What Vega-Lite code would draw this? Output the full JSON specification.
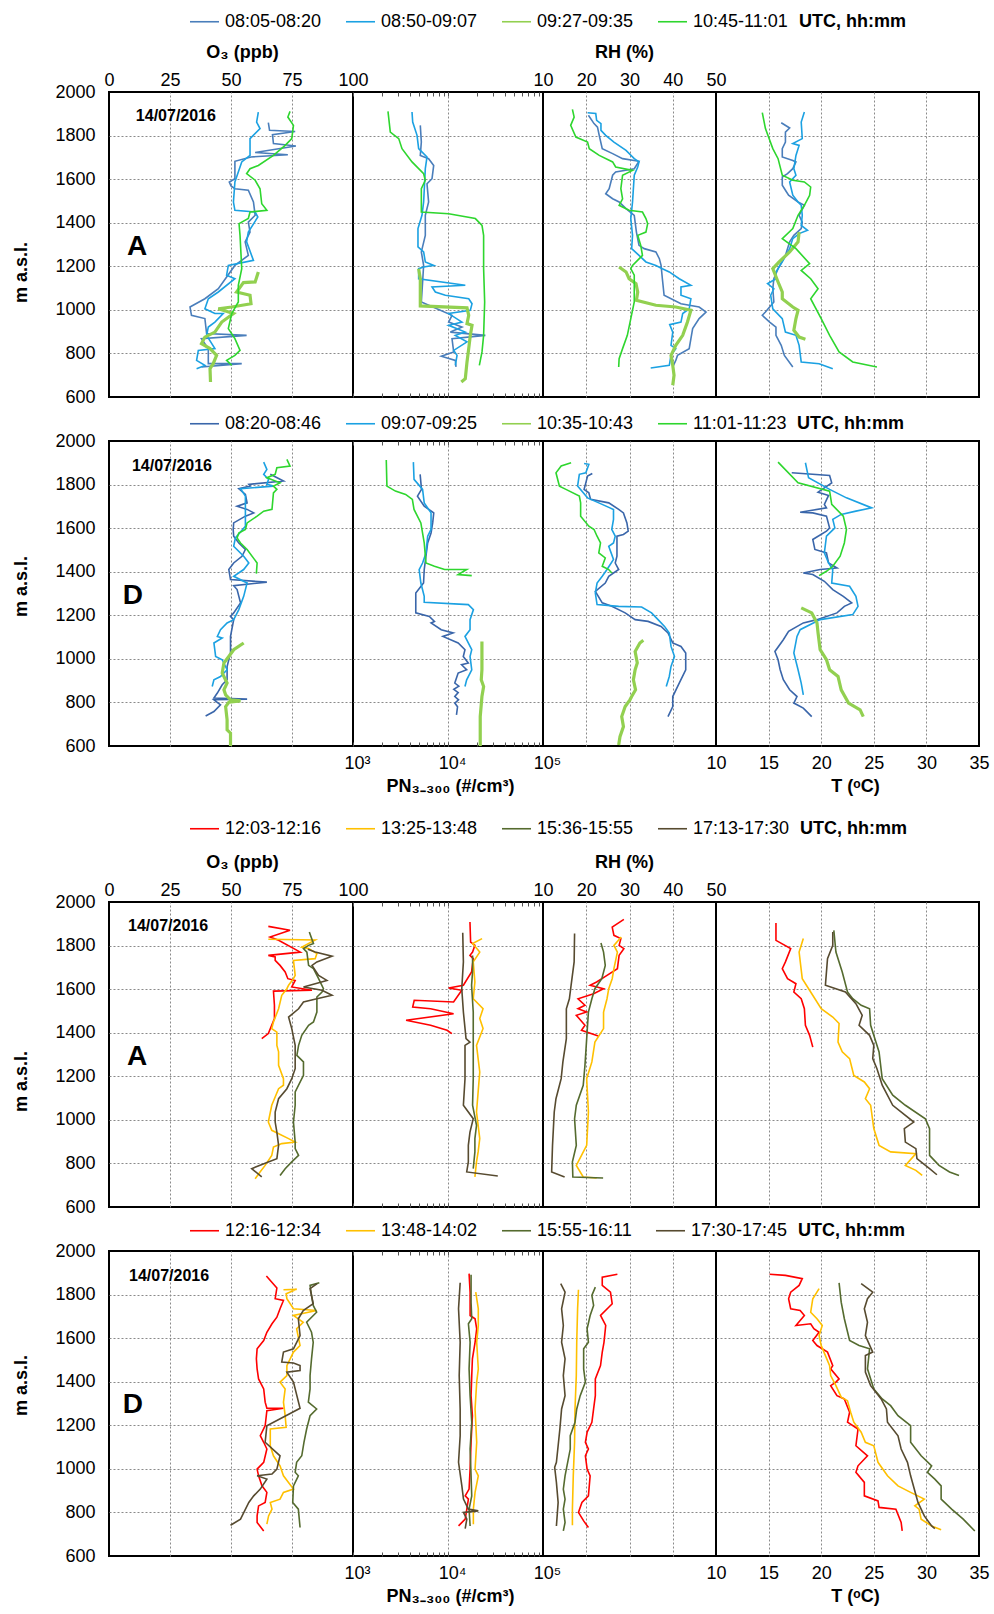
{
"$schema":"https://vega.github.io/schema/vega-lite/v6.json",
"background":"white",
"padding":{"left":10,"top":5,"right":5,"bottom":5},
"config":{
"font":"Liberation Sans",
"view":{"stroke":"#000000","strokeWidth":2},
"axis":{"domain":false,"ticks":false,"grid":true,"gridColor":"#8a8a8a","gridDash":[2,2],"gridWidth":1,"labelFont":"Liberation Sans","labelFontSize":18,"labelColor":"#000000","labelFlush":false,"labelOverlap":false,"labelBound":false,"titleFont":"Liberation Sans","titleFontSize":18,"titleFontWeight":"bold","titleColor":"#000000"},
"legend":{"labelFont":"Liberation Sans","titleFont":"Liberation Sans"},
"text":{"font":"Liberation Sans","color":"#000000"}
},
"datasets":{
"r1":[
{"v":"o","p":1,"alt":1859,"val":65.3},{"v":"o","p":1,"alt":1824,"val":65.8},{"v":"o","p":1,"alt":1819,"val":76.3},{"v":"o","p":1,"alt":1804,"val":67},{"v":"o","p":1,"alt":1763,"val":67.4},{"v":"o","p":1,"alt":1752,"val":76.6},{"v":"o","p":1,"alt":1722,"val":59.9},{"v":"o","p":1,"alt":1712,"val":73.3},{"v":"o","p":1,"alt":1702,"val":58.2},{"v":"o","p":1,"alt":1682,"val":51.6},{"v":"o","p":1,"alt":1602,"val":51.6},{"v":"o","p":1,"alt":1587,"val":49.3},{"v":"o","p":1,"alt":1569,"val":50},{"v":"o","p":1,"alt":1556,"val":51.6},{"v":"o","p":1,"alt":1549,"val":57.1},{"v":"o","p":1,"alt":1495,"val":59.2},{"v":"o","p":1,"alt":1434,"val":59.9},{"v":"o","p":1,"alt":1403,"val":57.1},{"v":"o","p":1,"alt":1357,"val":57.8},{"v":"o","p":1,"alt":1312,"val":55.8},{"v":"o","p":1,"alt":1250,"val":57.1},{"v":"o","p":1,"alt":1204,"val":51.6},{"v":"o","p":1,"alt":1097,"val":44.8},{"v":"o","p":1,"alt":1051,"val":39.3},{"v":"o","p":1,"alt":1013,"val":33.2},{"v":"o","p":1,"alt":975,"val":33.8},{"v":"o","p":1,"alt":960,"val":39.3},{"v":"o","p":1,"alt":891,"val":40},{"v":"o","p":1,"alt":883,"val":56.4},{"v":"o","p":1,"alt":868,"val":37.9},{"v":"o","p":1,"alt":822,"val":40.7},{"v":"o","p":1,"alt":753,"val":40.7},{"v":"o","p":1,"alt":753,"val":54.4},{"v":"o","p":1,"alt":738,"val":37.9},
{"v":"o","p":2,"alt":1908,"val":61.2},{"v":"o","p":2,"alt":1862,"val":60.5},{"v":"o","p":2,"alt":1832,"val":61.9},{"v":"o","p":2,"alt":1786,"val":57.8},{"v":"o","p":2,"alt":1709,"val":57.8},{"v":"o","p":2,"alt":1679,"val":54.4},{"v":"o","p":2,"alt":1587,"val":51.6},{"v":"o","p":2,"alt":1495,"val":51},{"v":"o","p":2,"alt":1457,"val":51.6},{"v":"o","p":2,"alt":1449,"val":59.9},{"v":"o","p":2,"alt":1426,"val":61},{"v":"o","p":2,"alt":1357,"val":57.1},{"v":"o","p":2,"alt":1312,"val":56.4},{"v":"o","p":2,"alt":1227,"val":59.2},{"v":"o","p":2,"alt":1204,"val":48.9},{"v":"o","p":2,"alt":1159,"val":48.2},{"v":"o","p":2,"alt":1143,"val":51.6},{"v":"o","p":2,"alt":1082,"val":44.8},{"v":"o","p":2,"alt":1051,"val":40.7},{"v":"o","p":2,"alt":1005,"val":39.3},{"v":"o","p":2,"alt":983,"val":43.4},{"v":"o","p":2,"alt":983,"val":46.8},{"v":"o","p":2,"alt":944,"val":43.4},{"v":"o","p":2,"alt":921,"val":40.7},{"v":"o","p":2,"alt":883,"val":40},{"v":"o","p":2,"alt":822,"val":43.4},{"v":"o","p":2,"alt":814,"val":36.6},{"v":"o","p":2,"alt":768,"val":35.9},{"v":"o","p":2,"alt":745,"val":39.3},{"v":"o","p":2,"alt":730,"val":35.9},
{"v":"o","p":3,"alt":1174,"val":61.2},{"v":"o","p":3,"alt":1128,"val":59.9},{"v":"o","p":3,"alt":1125,"val":55.1},{"v":"o","p":3,"alt":1082,"val":52.3},{"v":"o","p":3,"alt":1067,"val":57.8},{"v":"o","p":3,"alt":1028,"val":58.2},{"v":"o","p":3,"alt":1013,"val":50.3},{"v":"o","p":3,"alt":1005,"val":44.8},{"v":"o","p":3,"alt":983,"val":51},{"v":"o","p":3,"alt":944,"val":46.2},{"v":"o","p":3,"alt":898,"val":43.4},{"v":"o","p":3,"alt":875,"val":39.3},{"v":"o","p":3,"alt":845,"val":37.9},{"v":"o","p":3,"alt":822,"val":41.4},{"v":"o","p":3,"alt":791,"val":44.1},{"v":"o","p":3,"alt":753,"val":42.7},{"v":"o","p":3,"alt":730,"val":41.4},{"v":"o","p":3,"alt":669,"val":41.6},
{"v":"o","p":4,"alt":1911,"val":74.2},{"v":"o","p":4,"alt":1885,"val":73.3},{"v":"o","p":4,"alt":1847,"val":75.6},{"v":"o","p":4,"alt":1786,"val":74.9},{"v":"o","p":4,"alt":1755,"val":72.2},{"v":"o","p":4,"alt":1709,"val":67.4},{"v":"o","p":4,"alt":1663,"val":61.2},{"v":"o","p":4,"alt":1648,"val":57.8},{"v":"o","p":4,"alt":1625,"val":56.4},{"v":"o","p":4,"alt":1595,"val":59.9},{"v":"o","p":4,"alt":1556,"val":61.9},{"v":"o","p":4,"alt":1487,"val":62.6},{"v":"o","p":4,"alt":1457,"val":64.7},{"v":"o","p":4,"alt":1449,"val":57.8},{"v":"o","p":4,"alt":1419,"val":57.1},{"v":"o","p":4,"alt":1396,"val":53.3},{"v":"o","p":4,"alt":1342,"val":53.7},{"v":"o","p":4,"alt":1189,"val":54.4},{"v":"o","p":4,"alt":1113,"val":53},{"v":"o","p":4,"alt":1036,"val":53},{"v":"o","p":4,"alt":983,"val":50.3},{"v":"o","p":4,"alt":914,"val":48.9},{"v":"o","p":4,"alt":868,"val":51.6},{"v":"o","p":4,"alt":814,"val":53.7},{"v":"o","p":4,"alt":791,"val":51.6},{"v":"o","p":4,"alt":768,"val":48.2},{"v":"o","p":4,"alt":745,"val":50.3},
{"v":"n","p":1,"alt":1847,"val":5110},{"v":"n","p":1,"alt":1770,"val":5240},{"v":"n","p":1,"alt":1709,"val":5110},{"v":"n","p":1,"alt":1694,"val":6250},{"v":"n","p":1,"alt":1663,"val":7070},{"v":"n","p":1,"alt":1602,"val":6790},{"v":"n","p":1,"alt":1579,"val":6010},{"v":"n","p":1,"alt":1495,"val":6250},{"v":"n","p":1,"alt":1434,"val":5770},{"v":"n","p":1,"alt":1342,"val":5770},{"v":"n","p":1,"alt":1266,"val":5240},{"v":"n","p":1,"alt":1204,"val":5540},{"v":"n","p":1,"alt":1143,"val":5430},{"v":"n","p":1,"alt":1036,"val":5240},{"v":"n","p":1,"alt":975,"val":11020},{"v":"n","p":1,"alt":944,"val":10160},{"v":"n","p":1,"alt":921,"val":14030},{"v":"n","p":1,"alt":898,"val":10590},{"v":"n","p":1,"alt":883,"val":24720},{"v":"n","p":1,"alt":868,"val":11020},{"v":"n","p":1,"alt":807,"val":11480},{"v":"n","p":1,"alt":787,"val":8510},{"v":"n","p":1,"alt":768,"val":11940},{"v":"n","p":1,"alt":738,"val":12140},
{"v":"n","p":2,"alt":1908,"val":4180},{"v":"n","p":2,"alt":1862,"val":4250},{"v":"n","p":2,"alt":1801,"val":4720},{"v":"n","p":2,"alt":1740,"val":4910},{"v":"n","p":2,"alt":1702,"val":6010},{"v":"n","p":2,"alt":1648,"val":5770},{"v":"n","p":2,"alt":1495,"val":5540},{"v":"n","p":2,"alt":1434,"val":5320},{"v":"n","p":2,"alt":1373,"val":4830},{"v":"n","p":2,"alt":1289,"val":4830},{"v":"n","p":2,"alt":1266,"val":5540},{"v":"n","p":2,"alt":1220,"val":5770},{"v":"n","p":2,"alt":1204,"val":7070},{"v":"n","p":2,"alt":1197,"val":5540},{"v":"n","p":2,"alt":1189,"val":4910},{"v":"n","p":2,"alt":1143,"val":4910},{"v":"n","p":2,"alt":1113,"val":15210},{"v":"n","p":2,"alt":1105,"val":6790},{"v":"n","p":2,"alt":1082,"val":7360},{"v":"n","p":2,"alt":1067,"val":9380},{"v":"n","p":2,"alt":1051,"val":16520},{"v":"n","p":2,"alt":1028,"val":17910},{"v":"n","p":2,"alt":998,"val":17180},{"v":"n","p":2,"alt":983,"val":10160},{"v":"n","p":2,"alt":944,"val":14030},{"v":"n","p":2,"alt":929,"val":10160},{"v":"n","p":2,"alt":898,"val":15210},{"v":"n","p":2,"alt":883,"val":11940},{"v":"n","p":2,"alt":853,"val":15850},{"v":"n","p":2,"alt":814,"val":11480},{"v":"n","p":2,"alt":791,"val":12450},{"v":"n","p":2,"alt":745,"val":11940},
{"v":"n","p":3,"alt":1189,"val":4910},{"v":"n","p":3,"alt":1143,"val":5110},{"v":"n","p":3,"alt":1018,"val":5110},{"v":"n","p":3,"alt":1009,"val":15850},{"v":"n","p":3,"alt":975,"val":16520},{"v":"n","p":3,"alt":937,"val":15850},{"v":"n","p":3,"alt":929,"val":17910},{"v":"n","p":3,"alt":883,"val":17180},{"v":"n","p":3,"alt":822,"val":16520},{"v":"n","p":3,"alt":761,"val":15850},{"v":"n","p":3,"alt":684,"val":15210},{"v":"n","p":3,"alt":669,"val":13810},
{"v":"n","p":4,"alt":1911,"val":2335},{"v":"n","p":4,"alt":1816,"val":2470},{"v":"n","p":4,"alt":1786,"val":3030},{"v":"n","p":4,"alt":1740,"val":3280},{"v":"n","p":4,"alt":1679,"val":4180},{"v":"n","p":4,"alt":1625,"val":5540},{"v":"n","p":4,"alt":1595,"val":5770},{"v":"n","p":4,"alt":1556,"val":5240},{"v":"n","p":4,"alt":1449,"val":5240},{"v":"n","p":4,"alt":1441,"val":10160},{"v":"n","p":4,"alt":1419,"val":19410},{"v":"n","p":4,"alt":1388,"val":22800},{"v":"n","p":4,"alt":1342,"val":23710},{"v":"n","p":4,"alt":1189,"val":23710},{"v":"n","p":4,"alt":1036,"val":24320},{"v":"n","p":4,"alt":883,"val":23710},{"v":"n","p":4,"alt":807,"val":22800},{"v":"n","p":4,"alt":745,"val":21380},
{"v":"h","p":1,"alt":1893,"val":20.5},{"v":"h","p":1,"alt":1855,"val":21.8},{"v":"h","p":1,"alt":1839,"val":22.6},{"v":"h","p":1,"alt":1801,"val":23},{"v":"h","p":1,"alt":1740,"val":23.7},{"v":"h","p":1,"alt":1717,"val":26.1},{"v":"h","p":1,"alt":1694,"val":28.4},{"v":"h","p":1,"alt":1682,"val":32.2},{"v":"h","p":1,"alt":1648,"val":31.1},{"v":"h","p":1,"alt":1633,"val":26.8},{"v":"h","p":1,"alt":1618,"val":26.1},{"v":"h","p":1,"alt":1556,"val":25.3},{"v":"h","p":1,"alt":1533,"val":24.5},{"v":"h","p":1,"alt":1510,"val":26.1},{"v":"h","p":1,"alt":1495,"val":27.6},{"v":"h","p":1,"alt":1465,"val":29.2},{"v":"h","p":1,"alt":1434,"val":31.1},{"v":"h","p":1,"alt":1357,"val":31.6},{"v":"h","p":1,"alt":1296,"val":32.2},{"v":"h","p":1,"alt":1281,"val":33.4},{"v":"h","p":1,"alt":1266,"val":36.1},{"v":"h","p":1,"alt":1235,"val":36.9},{"v":"h","p":1,"alt":1204,"val":37.3},{"v":"h","p":1,"alt":1143,"val":37.6},{"v":"h","p":1,"alt":1067,"val":38},{"v":"h","p":1,"alt":1028,"val":41.9},{"v":"h","p":1,"alt":1013,"val":46.1},{"v":"h","p":1,"alt":990,"val":47.7},{"v":"h","p":1,"alt":960,"val":46.1},{"v":"h","p":1,"alt":914,"val":44.6},{"v":"h","p":1,"alt":868,"val":44.2},{"v":"h","p":1,"alt":822,"val":43.8},{"v":"h","p":1,"alt":791,"val":41.1},{"v":"h","p":1,"alt":768,"val":40.7},{"v":"h","p":1,"alt":738,"val":40},
{"v":"h","p":2,"alt":1905,"val":20.3},{"v":"h","p":2,"alt":1901,"val":22.2},{"v":"h","p":2,"alt":1870,"val":22.4},{"v":"h","p":2,"alt":1855,"val":23.4},{"v":"h","p":2,"alt":1824,"val":23.4},{"v":"h","p":2,"alt":1801,"val":24.5},{"v":"h","p":2,"alt":1770,"val":26.4},{"v":"h","p":2,"alt":1732,"val":29.2},{"v":"h","p":2,"alt":1694,"val":31.1},{"v":"h","p":2,"alt":1679,"val":32.2},{"v":"h","p":2,"alt":1656,"val":31.9},{"v":"h","p":2,"alt":1618,"val":31.1},{"v":"h","p":2,"alt":1495,"val":30.7},{"v":"h","p":2,"alt":1419,"val":30.3},{"v":"h","p":2,"alt":1342,"val":30.7},{"v":"h","p":2,"alt":1281,"val":30.5},{"v":"h","p":2,"alt":1250,"val":32.2},{"v":"h","p":2,"alt":1220,"val":33.8},{"v":"h","p":2,"alt":1204,"val":36.1},{"v":"h","p":2,"alt":1189,"val":37.6},{"v":"h","p":2,"alt":1174,"val":39.2},{"v":"h","p":2,"alt":1143,"val":41.5},{"v":"h","p":2,"alt":1113,"val":44.2},{"v":"h","p":2,"alt":1105,"val":41.9},{"v":"h","p":2,"alt":1067,"val":41.9},{"v":"h","p":2,"alt":1051,"val":44.2},{"v":"h","p":2,"alt":1005,"val":43.8},{"v":"h","p":2,"alt":983,"val":42.3},{"v":"h","p":2,"alt":944,"val":41.9},{"v":"h","p":2,"alt":932,"val":39.3},{"v":"h","p":2,"alt":898,"val":40},{"v":"h","p":2,"alt":837,"val":39.6},{"v":"h","p":2,"alt":822,"val":40.7},{"v":"h","p":2,"alt":791,"val":39.6},{"v":"h","p":2,"alt":745,"val":39.2},{"v":"h","p":2,"alt":733,"val":34.9},
{"v":"h","p":3,"alt":1197,"val":27.6},{"v":"h","p":3,"alt":1174,"val":29.2},{"v":"h","p":3,"alt":1143,"val":29.9},{"v":"h","p":3,"alt":1120,"val":31.5},{"v":"h","p":3,"alt":1082,"val":31.9},{"v":"h","p":3,"alt":1044,"val":31.6},{"v":"h","p":3,"alt":1021,"val":36.1},{"v":"h","p":3,"alt":1013,"val":40.7},{"v":"h","p":3,"alt":998,"val":44.2},{"v":"h","p":3,"alt":944,"val":43.4},{"v":"h","p":3,"alt":883,"val":42.3},{"v":"h","p":3,"alt":837,"val":40.7},{"v":"h","p":3,"alt":791,"val":39.6},{"v":"h","p":3,"alt":745,"val":40},{"v":"h","p":3,"alt":700,"val":40.3},{"v":"h","p":3,"alt":654,"val":40},
{"v":"h","p":4,"alt":1920,"val":16.8},{"v":"h","p":4,"alt":1885,"val":17.2},{"v":"h","p":4,"alt":1847,"val":16.4},{"v":"h","p":4,"alt":1793,"val":17.6},{"v":"h","p":4,"alt":1770,"val":20.3},{"v":"h","p":4,"alt":1740,"val":20.7},{"v":"h","p":4,"alt":1709,"val":23},{"v":"h","p":4,"alt":1679,"val":26.1},{"v":"h","p":4,"alt":1656,"val":26.8},{"v":"h","p":4,"alt":1640,"val":30.7},{"v":"h","p":4,"alt":1618,"val":28.4},{"v":"h","p":4,"alt":1556,"val":28},{"v":"h","p":4,"alt":1510,"val":28.4},{"v":"h","p":4,"alt":1480,"val":27.6},{"v":"h","p":4,"alt":1457,"val":29.9},{"v":"h","p":4,"alt":1449,"val":33},{"v":"h","p":4,"alt":1419,"val":33.8},{"v":"h","p":4,"alt":1396,"val":34.2},{"v":"h","p":4,"alt":1357,"val":33.8},{"v":"h","p":4,"alt":1342,"val":31.9},{"v":"h","p":4,"alt":1296,"val":32.6},{"v":"h","p":4,"alt":1250,"val":33},{"v":"h","p":4,"alt":1204,"val":30.7},{"v":"h","p":4,"alt":1189,"val":30.3},{"v":"h","p":4,"alt":1159,"val":31.1},{"v":"h","p":4,"alt":1036,"val":31.1},{"v":"h","p":4,"alt":960,"val":30.3},{"v":"h","p":4,"alt":883,"val":29.5},{"v":"h","p":4,"alt":822,"val":28.4},{"v":"h","p":4,"alt":776,"val":27.6},{"v":"h","p":4,"alt":738,"val":27.5},
{"v":"t","p":1,"alt":1859,"val":16.2},{"v":"t","p":1,"alt":1835,"val":17},{"v":"t","p":1,"alt":1816,"val":16.6},{"v":"t","p":1,"alt":1770,"val":16.6},{"v":"t","p":1,"alt":1740,"val":16.3},{"v":"t","p":1,"alt":1702,"val":16.3},{"v":"t","p":1,"alt":1686,"val":17.3},{"v":"t","p":1,"alt":1679,"val":17.6},{"v":"t","p":1,"alt":1648,"val":17.3},{"v":"t","p":1,"alt":1625,"val":16.8},{"v":"t","p":1,"alt":1610,"val":16.3},{"v":"t","p":1,"alt":1572,"val":16.3},{"v":"t","p":1,"alt":1549,"val":16.6},{"v":"t","p":1,"alt":1526,"val":16.9},{"v":"t","p":1,"alt":1495,"val":17.8},{"v":"t","p":1,"alt":1480,"val":18.4},{"v":"t","p":1,"alt":1434,"val":17.9},{"v":"t","p":1,"alt":1403,"val":18.2},{"v":"t","p":1,"alt":1373,"val":18.1},{"v":"t","p":1,"alt":1342,"val":17.4},{"v":"t","p":1,"alt":1312,"val":17},{"v":"t","p":1,"alt":1250,"val":16.6},{"v":"t","p":1,"alt":1189,"val":15.9},{"v":"t","p":1,"alt":1143,"val":15.5},{"v":"t","p":1,"alt":1097,"val":15.4},{"v":"t","p":1,"alt":1036,"val":15.5},{"v":"t","p":1,"alt":990,"val":14.7},{"v":"t","p":1,"alt":975,"val":14.4},{"v":"t","p":1,"alt":944,"val":15.1},{"v":"t","p":1,"alt":921,"val":15.7},{"v":"t","p":1,"alt":883,"val":15.7},{"v":"t","p":1,"alt":837,"val":16.2},{"v":"t","p":1,"alt":791,"val":16.5},{"v":"t","p":1,"alt":738,"val":17.3},
{"v":"t","p":2,"alt":1908,"val":18.4},{"v":"t","p":2,"alt":1862,"val":18.1},{"v":"t","p":2,"alt":1786,"val":18.2},{"v":"t","p":2,"alt":1763,"val":17.3},{"v":"t","p":2,"alt":1755,"val":17.9},{"v":"t","p":2,"alt":1709,"val":17.6},{"v":"t","p":2,"alt":1648,"val":17.4},{"v":"t","p":2,"alt":1618,"val":17.6},{"v":"t","p":2,"alt":1587,"val":17},{"v":"t","p":2,"alt":1526,"val":17.3},{"v":"t","p":2,"alt":1495,"val":17.8},{"v":"t","p":2,"alt":1480,"val":18.1},{"v":"t","p":2,"alt":1434,"val":18.2},{"v":"t","p":2,"alt":1388,"val":18.1},{"v":"t","p":2,"alt":1365,"val":18.7},{"v":"t","p":2,"alt":1350,"val":17.9},{"v":"t","p":2,"alt":1327,"val":17.3},{"v":"t","p":2,"alt":1281,"val":17},{"v":"t","p":2,"alt":1220,"val":16.3},{"v":"t","p":2,"alt":1174,"val":15.7},{"v":"t","p":2,"alt":1143,"val":15.7},{"v":"t","p":2,"alt":1120,"val":14.9},{"v":"t","p":2,"alt":1097,"val":15.5},{"v":"t","p":2,"alt":1067,"val":15.2},{"v":"t","p":2,"alt":1005,"val":15.4},{"v":"t","p":2,"alt":960,"val":16.3},{"v":"t","p":2,"alt":898,"val":16.6},{"v":"t","p":2,"alt":883,"val":17.6},{"v":"t","p":2,"alt":837,"val":17.9},{"v":"t","p":2,"alt":761,"val":18.1},{"v":"t","p":2,"alt":753,"val":19.8},{"v":"t","p":2,"alt":730,"val":21.1},
{"v":"t","p":3,"alt":1357,"val":17.9},{"v":"t","p":3,"alt":1312,"val":17.8},{"v":"t","p":3,"alt":1266,"val":17},{"v":"t","p":3,"alt":1220,"val":16},{"v":"t","p":3,"alt":1189,"val":15.4},{"v":"t","p":3,"alt":1128,"val":15.9},{"v":"t","p":3,"alt":1082,"val":16.3},{"v":"t","p":3,"alt":1051,"val":16.3},{"v":"t","p":3,"alt":1013,"val":17.3},{"v":"t","p":3,"alt":998,"val":17.8},{"v":"t","p":3,"alt":960,"val":17.6},{"v":"t","p":3,"alt":906,"val":17.4},{"v":"t","p":3,"alt":875,"val":17.9},{"v":"t","p":3,"alt":865,"val":18.5},
{"v":"t","p":4,"alt":1905,"val":14.4},{"v":"t","p":4,"alt":1832,"val":14.7},{"v":"t","p":4,"alt":1740,"val":15.4},{"v":"t","p":4,"alt":1694,"val":15.9},{"v":"t","p":4,"alt":1618,"val":16.3},{"v":"t","p":4,"alt":1595,"val":17.3},{"v":"t","p":4,"alt":1587,"val":18.4},{"v":"t","p":4,"alt":1564,"val":19},{"v":"t","p":4,"alt":1526,"val":18.9},{"v":"t","p":4,"alt":1480,"val":18.4},{"v":"t","p":4,"alt":1434,"val":17.8},{"v":"t","p":4,"alt":1373,"val":17.3},{"v":"t","p":4,"alt":1327,"val":16.3},{"v":"t","p":4,"alt":1281,"val":17.6},{"v":"t","p":4,"alt":1212,"val":18.9},{"v":"t","p":4,"alt":1181,"val":18.1},{"v":"t","p":4,"alt":1143,"val":19},{"v":"t","p":4,"alt":1097,"val":19.7},{"v":"t","p":4,"alt":1051,"val":19},{"v":"t","p":4,"alt":960,"val":20},{"v":"t","p":4,"alt":883,"val":20.8},{"v":"t","p":4,"alt":807,"val":21.7},{"v":"t","p":4,"alt":761,"val":23},{"v":"t","p":4,"alt":745,"val":24.6},{"v":"t","p":4,"alt":738,"val":25.3}
],
"r2":[
{"v":"o","p":1,"alt":1847,"val":66.1},{"v":"o","p":1,"alt":1816,"val":71.5},{"v":"o","p":1,"alt":1801,"val":57.3},{"v":"o","p":1,"alt":1793,"val":57.9},{"v":"o","p":1,"alt":1781,"val":53.2},{"v":"o","p":1,"alt":1755,"val":55.9},{"v":"o","p":1,"alt":1716,"val":56.6},{"v":"o","p":1,"alt":1701,"val":52.5},{"v":"o","p":1,"alt":1686,"val":56.6},{"v":"o","p":1,"alt":1670,"val":59.3},{"v":"o","p":1,"alt":1655,"val":55.9},{"v":"o","p":1,"alt":1624,"val":51.1},{"v":"o","p":1,"alt":1594,"val":50.9},{"v":"o","p":1,"alt":1563,"val":51.1},{"v":"o","p":1,"alt":1532,"val":53.2},{"v":"o","p":1,"alt":1502,"val":55.9},{"v":"o","p":1,"alt":1471,"val":54.5},{"v":"o","p":1,"alt":1440,"val":51.1},{"v":"o","p":1,"alt":1410,"val":49.1},{"v":"o","p":1,"alt":1364,"val":49.8},{"v":"o","p":1,"alt":1352,"val":64.7},{"v":"o","p":1,"alt":1336,"val":51.1},{"v":"o","p":1,"alt":1318,"val":52.5},{"v":"o","p":1,"alt":1257,"val":53.9},{"v":"o","p":1,"alt":1211,"val":51.1},{"v":"o","p":1,"alt":1195,"val":49.8},{"v":"o","p":1,"alt":1180,"val":51.1},{"v":"o","p":1,"alt":1103,"val":49.8},{"v":"o","p":1,"alt":1027,"val":49.8},{"v":"o","p":1,"alt":965,"val":48.4},{"v":"o","p":1,"alt":904,"val":48.4},{"v":"o","p":1,"alt":881,"val":46.4},{"v":"o","p":1,"alt":843,"val":44.4},{"v":"o","p":1,"alt":820,"val":43},{"v":"o","p":1,"alt":815,"val":56.6},{"v":"o","p":1,"alt":812,"val":43},{"v":"o","p":1,"alt":789,"val":45.7},{"v":"o","p":1,"alt":758,"val":43},{"v":"o","p":1,"alt":738,"val":39.6},
{"v":"o","p":2,"alt":1903,"val":63.4},{"v":"o","p":2,"alt":1870,"val":64.7},{"v":"o","p":2,"alt":1847,"val":63.4},{"v":"o","p":2,"alt":1824,"val":65.4},{"v":"o","p":2,"alt":1801,"val":64.7},{"v":"o","p":2,"alt":1793,"val":67.4},{"v":"o","p":2,"alt":1781,"val":53.9},{"v":"o","p":2,"alt":1747,"val":55.9},{"v":"o","p":2,"alt":1670,"val":55.9},{"v":"o","p":2,"alt":1609,"val":55.9},{"v":"o","p":2,"alt":1555,"val":51.8},{"v":"o","p":2,"alt":1517,"val":51.1},{"v":"o","p":2,"alt":1471,"val":55.2},{"v":"o","p":2,"alt":1440,"val":57.3},{"v":"o","p":2,"alt":1410,"val":55.2},{"v":"o","p":2,"alt":1379,"val":51.1},{"v":"o","p":2,"alt":1348,"val":56.6},{"v":"o","p":2,"alt":1287,"val":55.2},{"v":"o","p":2,"alt":1226,"val":53.2},{"v":"o","p":2,"alt":1180,"val":51.1},{"v":"o","p":2,"alt":1165,"val":48.4},{"v":"o","p":2,"alt":1134,"val":45.7},{"v":"o","p":2,"alt":1103,"val":44.4},{"v":"o","p":2,"alt":1096,"val":46.4},{"v":"o","p":2,"alt":1073,"val":43},{"v":"o","p":2,"alt":1011,"val":43.7},{"v":"o","p":2,"alt":996,"val":46.4},{"v":"o","p":2,"alt":950,"val":48.4},{"v":"o","p":2,"alt":935,"val":47.1},{"v":"o","p":2,"alt":919,"val":45.7},{"v":"o","p":2,"alt":904,"val":43},{"v":"o","p":2,"alt":873,"val":42.3},
{"v":"o","p":3,"alt":1073,"val":55.2},{"v":"o","p":3,"alt":1042,"val":51.1},{"v":"o","p":3,"alt":1011,"val":49.1},{"v":"o","p":3,"alt":981,"val":47.1},{"v":"o","p":3,"alt":935,"val":46.4},{"v":"o","p":3,"alt":889,"val":48.4},{"v":"o","p":3,"alt":858,"val":47.1},{"v":"o","p":3,"alt":835,"val":47.8},{"v":"o","p":3,"alt":812,"val":49.8},{"v":"o","p":3,"alt":807,"val":53.9},{"v":"o","p":3,"alt":801,"val":49.1},{"v":"o","p":3,"alt":781,"val":47.8},{"v":"o","p":3,"alt":720,"val":48.4},{"v":"o","p":3,"alt":674,"val":48.4},{"v":"o","p":3,"alt":659,"val":49.8},{"v":"o","p":3,"alt":600,"val":49.8},
{"v":"o","p":4,"alt":1916,"val":72.9},{"v":"o","p":4,"alt":1885,"val":74.2},{"v":"o","p":4,"alt":1877,"val":68.8},{"v":"o","p":4,"alt":1847,"val":68.1},{"v":"o","p":4,"alt":1831,"val":64.7},{"v":"o","p":4,"alt":1808,"val":70.1},{"v":"o","p":4,"alt":1793,"val":67.4},{"v":"o","p":4,"alt":1778,"val":68.8},{"v":"o","p":4,"alt":1762,"val":67.4},{"v":"o","p":4,"alt":1686,"val":66.8},{"v":"o","p":4,"alt":1678,"val":63.4},{"v":"o","p":4,"alt":1655,"val":60.7},{"v":"o","p":4,"alt":1624,"val":56.6},{"v":"o","p":4,"alt":1594,"val":55.9},{"v":"o","p":4,"alt":1578,"val":53.2},{"v":"o","p":4,"alt":1555,"val":52.5},{"v":"o","p":4,"alt":1532,"val":53.9},{"v":"o","p":4,"alt":1502,"val":56.6},{"v":"o","p":4,"alt":1440,"val":60.7},{"v":"o","p":4,"alt":1391,"val":60.4},
{"v":"n","p":1,"alt":1847,"val":5090},{"v":"n","p":1,"alt":1778,"val":5260},{"v":"n","p":1,"alt":1747,"val":4770},{"v":"n","p":1,"alt":1701,"val":5620},{"v":"n","p":1,"alt":1670,"val":7080},{"v":"n","p":1,"alt":1624,"val":6900},{"v":"n","p":1,"alt":1578,"val":6630},{"v":"n","p":1,"alt":1532,"val":6110},{"v":"n","p":1,"alt":1471,"val":5860},{"v":"n","p":1,"alt":1410,"val":5620},{"v":"n","p":1,"alt":1348,"val":5530},{"v":"n","p":1,"alt":1302,"val":4580},{"v":"n","p":1,"alt":1211,"val":4580},{"v":"n","p":1,"alt":1195,"val":6360},{"v":"n","p":1,"alt":1172,"val":7200},{"v":"n","p":1,"alt":1165,"val":6630},{"v":"n","p":1,"alt":1134,"val":8480},{"v":"n","p":1,"alt":1119,"val":11320},{"v":"n","p":1,"alt":1103,"val":8840},{"v":"n","p":1,"alt":1073,"val":12790},{"v":"n","p":1,"alt":1042,"val":15090},{"v":"n","p":1,"alt":1011,"val":14480},{"v":"n","p":1,"alt":981,"val":16370},{"v":"n","p":1,"alt":973,"val":13890},{"v":"n","p":1,"alt":950,"val":15720},{"v":"n","p":1,"alt":935,"val":12790},{"v":"n","p":1,"alt":889,"val":11790},{"v":"n","p":1,"alt":875,"val":13000},{"v":"n","p":1,"alt":860,"val":11500},{"v":"n","p":1,"alt":845,"val":12800},{"v":"n","p":1,"alt":827,"val":11790},{"v":"n","p":1,"alt":812,"val":12900},{"v":"n","p":1,"alt":797,"val":11800},{"v":"n","p":1,"alt":780,"val":12600},{"v":"n","p":1,"alt":743,"val":12280},
{"v":"n","p":2,"alt":1903,"val":4320},{"v":"n","p":2,"alt":1824,"val":4390},{"v":"n","p":2,"alt":1778,"val":5400},{"v":"n","p":2,"alt":1716,"val":5620},{"v":"n","p":2,"alt":1670,"val":6630},{"v":"n","p":2,"alt":1594,"val":6630},{"v":"n","p":2,"alt":1563,"val":6110},{"v":"n","p":2,"alt":1486,"val":5860},{"v":"n","p":2,"alt":1440,"val":5400},{"v":"n","p":2,"alt":1410,"val":4970},{"v":"n","p":2,"alt":1348,"val":5180},{"v":"n","p":2,"alt":1287,"val":5620},{"v":"n","p":2,"alt":1260,"val":5620},{"v":"n","p":2,"alt":1249,"val":16370},{"v":"n","p":2,"alt":1226,"val":18520},{"v":"n","p":2,"alt":1180,"val":17060},{"v":"n","p":2,"alt":1134,"val":17060},{"v":"n","p":2,"alt":1103,"val":15090},{"v":"n","p":2,"alt":1042,"val":17780},{"v":"n","p":2,"alt":1011,"val":17060},{"v":"n","p":2,"alt":950,"val":17780},{"v":"n","p":2,"alt":904,"val":15720},{"v":"n","p":2,"alt":873,"val":15090},
{"v":"n","p":3,"alt":1080,"val":22760},{"v":"n","p":3,"alt":950,"val":22760},{"v":"n","p":3,"alt":904,"val":22390},{"v":"n","p":3,"alt":873,"val":23710},{"v":"n","p":3,"alt":827,"val":22760},{"v":"n","p":3,"alt":735,"val":21840},{"v":"n","p":3,"alt":600,"val":21840},
{"v":"n","p":4,"alt":1913,"val":2240},{"v":"n","p":4,"alt":1793,"val":2275},{"v":"n","p":4,"alt":1770,"val":2795},{"v":"n","p":4,"alt":1755,"val":3580},{"v":"n","p":4,"alt":1732,"val":4215},{"v":"n","p":4,"alt":1686,"val":4390},{"v":"n","p":4,"alt":1624,"val":5180},{"v":"n","p":4,"alt":1532,"val":5620},{"v":"n","p":4,"alt":1440,"val":5860},{"v":"n","p":4,"alt":1425,"val":7200},{"v":"n","p":4,"alt":1410,"val":9210},{"v":"n","p":4,"alt":1410,"val":15720},{"v":"n","p":4,"alt":1387,"val":12790},{"v":"n","p":4,"alt":1382,"val":17780},
{"v":"h","p":1,"alt":1851,"val":21.4},{"v":"h","p":1,"alt":1839,"val":20.3},{"v":"h","p":1,"alt":1808,"val":19.9},{"v":"h","p":1,"alt":1778,"val":19.5},{"v":"h","p":1,"alt":1762,"val":20.6},{"v":"h","p":1,"alt":1732,"val":21},{"v":"h","p":1,"alt":1716,"val":25.2},{"v":"h","p":1,"alt":1686,"val":27.5},{"v":"h","p":1,"alt":1670,"val":28.6},{"v":"h","p":1,"alt":1624,"val":29.4},{"v":"h","p":1,"alt":1586,"val":29.7},{"v":"h","p":1,"alt":1571,"val":28.6},{"v":"h","p":1,"alt":1563,"val":27.1},{"v":"h","p":1,"alt":1471,"val":27.1},{"v":"h","p":1,"alt":1440,"val":26.7},{"v":"h","p":1,"alt":1410,"val":27.5},{"v":"h","p":1,"alt":1379,"val":25.2},{"v":"h","p":1,"alt":1348,"val":24.4},{"v":"h","p":1,"alt":1310,"val":22.1},{"v":"h","p":1,"alt":1257,"val":23.7},{"v":"h","p":1,"alt":1241,"val":25.9},{"v":"h","p":1,"alt":1211,"val":29},{"v":"h","p":1,"alt":1180,"val":31.3},{"v":"h","p":1,"alt":1172,"val":34.3},{"v":"h","p":1,"alt":1149,"val":37.3},{"v":"h","p":1,"alt":1119,"val":38.9},{"v":"h","p":1,"alt":1073,"val":40},{"v":"h","p":1,"alt":1057,"val":41.9},{"v":"h","p":1,"alt":1027,"val":43},{"v":"h","p":1,"alt":950,"val":43},{"v":"h","p":1,"alt":889,"val":41.5},{"v":"h","p":1,"alt":827,"val":40},{"v":"h","p":1,"alt":781,"val":40},{"v":"h","p":1,"alt":735,"val":38.9},
{"v":"h","p":2,"alt":1897,"val":19.5},{"v":"h","p":2,"alt":1893,"val":20.6},{"v":"h","p":2,"alt":1854,"val":19.9},{"v":"h","p":2,"alt":1847,"val":18.4},{"v":"h","p":2,"alt":1793,"val":18},{"v":"h","p":2,"alt":1739,"val":20.3},{"v":"h","p":2,"alt":1716,"val":22.9},{"v":"h","p":2,"alt":1686,"val":26.3},{"v":"h","p":2,"alt":1640,"val":26.3},{"v":"h","p":2,"alt":1594,"val":25.9},{"v":"h","p":2,"alt":1563,"val":26.7},{"v":"h","p":2,"alt":1532,"val":26.3},{"v":"h","p":2,"alt":1517,"val":25.2},{"v":"h","p":2,"alt":1456,"val":26.3},{"v":"h","p":2,"alt":1410,"val":24.8},{"v":"h","p":2,"alt":1379,"val":23.7},{"v":"h","p":2,"alt":1348,"val":22.5},{"v":"h","p":2,"alt":1302,"val":22.1},{"v":"h","p":2,"alt":1249,"val":22.5},{"v":"h","p":2,"alt":1241,"val":27.5},{"v":"h","p":2,"alt":1238,"val":32.8},{"v":"h","p":2,"alt":1211,"val":35.1},{"v":"h","p":2,"alt":1180,"val":36.6},{"v":"h","p":2,"alt":1149,"val":38.1},{"v":"h","p":2,"alt":1119,"val":39.2},{"v":"h","p":2,"alt":1057,"val":39.6},{"v":"h","p":2,"alt":1011,"val":40.4},{"v":"h","p":2,"alt":965,"val":39.6},{"v":"h","p":2,"alt":919,"val":39.2},{"v":"h","p":2,"alt":873,"val":38.5},
{"v":"h","p":3,"alt":1085,"val":33.2},{"v":"h","p":3,"alt":1073,"val":32.4},{"v":"h","p":3,"alt":1034,"val":31.3},{"v":"h","p":3,"alt":981,"val":31.8},{"v":"h","p":3,"alt":950,"val":31.3},{"v":"h","p":3,"alt":904,"val":30.9},{"v":"h","p":3,"alt":858,"val":31.4},{"v":"h","p":3,"alt":827,"val":30.5},{"v":"h","p":3,"alt":812,"val":30.1},{"v":"h","p":3,"alt":781,"val":29},{"v":"h","p":3,"alt":735,"val":28.2},{"v":"h","p":3,"alt":689,"val":28.6},{"v":"h","p":3,"alt":643,"val":27.8},{"v":"h","p":3,"alt":605,"val":27.5},
{"v":"h","p":4,"alt":1900,"val":16.5},{"v":"h","p":4,"alt":1885,"val":14.2},{"v":"h","p":4,"alt":1854,"val":13},{"v":"h","p":4,"alt":1793,"val":13.8},{"v":"h","p":4,"alt":1778,"val":15.3},{"v":"h","p":4,"alt":1747,"val":18.4},{"v":"h","p":4,"alt":1716,"val":18.7},{"v":"h","p":4,"alt":1655,"val":18.7},{"v":"h","p":4,"alt":1609,"val":20.6},{"v":"h","p":4,"alt":1594,"val":21.8},{"v":"h","p":4,"alt":1563,"val":22.5},{"v":"h","p":4,"alt":1532,"val":23.3},{"v":"h","p":4,"alt":1486,"val":22.9},{"v":"h","p":4,"alt":1463,"val":24.4},{"v":"h","p":4,"alt":1425,"val":23.7},{"v":"h","p":4,"alt":1410,"val":25.2},{"v":"h","p":4,"alt":1394,"val":25.9},
{"v":"t","p":1,"alt":1854,"val":17.2},{"v":"t","p":1,"alt":1842,"val":20.8},{"v":"t","p":1,"alt":1808,"val":21},{"v":"t","p":1,"alt":1765,"val":19.7},{"v":"t","p":1,"alt":1750,"val":20.7},{"v":"t","p":1,"alt":1709,"val":20.3},{"v":"t","p":1,"alt":1693,"val":20.5},{"v":"t","p":1,"alt":1673,"val":18},{"v":"t","p":1,"alt":1670,"val":19.2},{"v":"t","p":1,"alt":1655,"val":20.5},{"v":"t","p":1,"alt":1601,"val":20.8},{"v":"t","p":1,"alt":1586,"val":20.5},{"v":"t","p":1,"alt":1548,"val":19.2},{"v":"t","p":1,"alt":1502,"val":19.4},{"v":"t","p":1,"alt":1486,"val":20.5},{"v":"t","p":1,"alt":1440,"val":20.7},{"v":"t","p":1,"alt":1417,"val":21.5},{"v":"t","p":1,"alt":1410,"val":19.9},{"v":"t","p":1,"alt":1394,"val":18.3},{"v":"t","p":1,"alt":1387,"val":19.2},{"v":"t","p":1,"alt":1356,"val":20.3},{"v":"t","p":1,"alt":1318,"val":21.1},{"v":"t","p":1,"alt":1287,"val":22.1},{"v":"t","p":1,"alt":1257,"val":22.9},{"v":"t","p":1,"alt":1241,"val":22.2},{"v":"t","p":1,"alt":1211,"val":21.5},{"v":"t","p":1,"alt":1180,"val":19.6},{"v":"t","p":1,"alt":1165,"val":18.3},{"v":"t","p":1,"alt":1126,"val":16.9},{"v":"t","p":1,"alt":1088,"val":16.4},{"v":"t","p":1,"alt":1034,"val":15.6},{"v":"t","p":1,"alt":996,"val":15.9},{"v":"t","p":1,"alt":950,"val":16.1},{"v":"t","p":1,"alt":904,"val":16.4},{"v":"t","p":1,"alt":858,"val":17},{"v":"t","p":1,"alt":827,"val":17.7},{"v":"t","p":1,"alt":797,"val":17.4},{"v":"t","p":1,"alt":774,"val":18.3},{"v":"t","p":1,"alt":735,"val":19.1},
{"v":"t","p":2,"alt":1900,"val":18.5},{"v":"t","p":2,"alt":1831,"val":18.8},{"v":"t","p":2,"alt":1778,"val":20.8},{"v":"t","p":2,"alt":1739,"val":22.4},{"v":"t","p":2,"alt":1693,"val":24.8},{"v":"t","p":2,"alt":1678,"val":23.3},{"v":"t","p":2,"alt":1663,"val":21.9},{"v":"t","p":2,"alt":1640,"val":21.1},{"v":"t","p":2,"alt":1601,"val":21.3},{"v":"t","p":2,"alt":1563,"val":20.5},{"v":"t","p":2,"alt":1486,"val":20.3},{"v":"t","p":2,"alt":1440,"val":20.7},{"v":"t","p":2,"alt":1410,"val":21.1},{"v":"t","p":2,"alt":1348,"val":21},{"v":"t","p":2,"alt":1333,"val":22.7},{"v":"t","p":2,"alt":1287,"val":23.3},{"v":"t","p":2,"alt":1241,"val":23.5},{"v":"t","p":2,"alt":1203,"val":23},{"v":"t","p":2,"alt":1180,"val":19.9},{"v":"t","p":2,"alt":1134,"val":18},{"v":"t","p":2,"alt":1103,"val":17.7},{"v":"t","p":2,"alt":1027,"val":17.4},{"v":"t","p":2,"alt":950,"val":17.8},{"v":"t","p":2,"alt":889,"val":18.1},{"v":"t","p":2,"alt":835,"val":18.3},
{"v":"t","p":3,"alt":1234,"val":18.1},{"v":"t","p":3,"alt":1211,"val":19.1},{"v":"t","p":3,"alt":1165,"val":19.6},{"v":"t","p":3,"alt":1119,"val":19.7},{"v":"t","p":3,"alt":1042,"val":19.9},{"v":"t","p":3,"alt":996,"val":20.5},{"v":"t","p":3,"alt":950,"val":20.8},{"v":"t","p":3,"alt":919,"val":21.6},{"v":"t","p":3,"alt":858,"val":21.9},{"v":"t","p":3,"alt":797,"val":22.6},{"v":"t","p":3,"alt":766,"val":23.7},{"v":"t","p":3,"alt":735,"val":24},
{"v":"t","p":4,"alt":1903,"val":15.9},{"v":"t","p":4,"alt":1808,"val":17.8},{"v":"t","p":4,"alt":1770,"val":20.8},{"v":"t","p":4,"alt":1709,"val":21},{"v":"t","p":4,"alt":1655,"val":22.1},{"v":"t","p":4,"alt":1594,"val":22.4},{"v":"t","p":4,"alt":1532,"val":22.2},{"v":"t","p":4,"alt":1471,"val":21.8},{"v":"t","p":4,"alt":1425,"val":21.1},{"v":"t","p":4,"alt":1402,"val":20.5},{"v":"t","p":4,"alt":1382,"val":19.8}
],
"r3":[
{"v":"o","p":1,"alt":1888,"val":65.3},{"v":"o","p":1,"alt":1870,"val":74.2},{"v":"o","p":1,"alt":1839,"val":66},{"v":"o","p":1,"alt":1824,"val":69.5},{"v":"o","p":1,"alt":1770,"val":78.4},{"v":"o","p":1,"alt":1755,"val":65.3},{"v":"o","p":1,"alt":1748,"val":68.1},{"v":"o","p":1,"alt":1732,"val":68.1},{"v":"o","p":1,"alt":1709,"val":70.1},{"v":"o","p":1,"alt":1679,"val":72.2},{"v":"o","p":1,"alt":1648,"val":73.3},{"v":"o","p":1,"alt":1640,"val":76.3},{"v":"o","p":1,"alt":1610,"val":74.9},{"v":"o","p":1,"alt":1595,"val":83.2},{"v":"o","p":1,"alt":1591,"val":67.4},{"v":"o","p":1,"alt":1526,"val":67.8},{"v":"o","p":1,"alt":1465,"val":67.8},{"v":"o","p":1,"alt":1396,"val":65.3},{"v":"o","p":1,"alt":1373,"val":62.6},
{"v":"o","p":2,"alt":1829,"val":65.3},{"v":"o","p":2,"alt":1826,"val":84.5},{"v":"o","p":2,"alt":1793,"val":79},{"v":"o","p":2,"alt":1786,"val":81.8},{"v":"o","p":2,"alt":1763,"val":85.2},{"v":"o","p":2,"alt":1740,"val":84.5},{"v":"o","p":2,"alt":1732,"val":75.6},{"v":"o","p":2,"alt":1663,"val":76.3},{"v":"o","p":2,"alt":1648,"val":75.6},{"v":"o","p":2,"alt":1618,"val":73.6},{"v":"o","p":2,"alt":1602,"val":72.9},{"v":"o","p":2,"alt":1572,"val":70.8},{"v":"o","p":2,"alt":1510,"val":69.5},{"v":"o","p":2,"alt":1449,"val":67.4},{"v":"o","p":2,"alt":1419,"val":66.7},{"v":"o","p":2,"alt":1403,"val":68.8},{"v":"o","p":2,"alt":1342,"val":68.8},{"v":"o","p":2,"alt":1312,"val":69.5},{"v":"o","p":2,"alt":1250,"val":69.5},{"v":"o","p":2,"alt":1189,"val":71.5},{"v":"o","p":2,"alt":1159,"val":71.5},{"v":"o","p":2,"alt":1143,"val":69.5},{"v":"o","p":2,"alt":1067,"val":66.7},{"v":"o","p":2,"alt":990,"val":65.3},{"v":"o","p":2,"alt":952,"val":66.7},{"v":"o","p":2,"alt":914,"val":73.6},{"v":"o","p":2,"alt":898,"val":76.3},{"v":"o","p":2,"alt":891,"val":70.8},{"v":"o","p":2,"alt":875,"val":67.4},{"v":"o","p":2,"alt":837,"val":66.7},{"v":"o","p":2,"alt":791,"val":64},{"v":"o","p":2,"alt":761,"val":61.9},{"v":"o","p":2,"alt":730,"val":59.9},
{"v":"o","p":3,"alt":1862,"val":82.1},{"v":"o","p":3,"alt":1809,"val":83.8},{"v":"o","p":3,"alt":1801,"val":81.8},{"v":"o","p":3,"alt":1786,"val":79.7},{"v":"o","p":3,"alt":1770,"val":81.1},{"v":"o","p":3,"alt":1709,"val":81.8},{"v":"o","p":3,"alt":1694,"val":83.8},{"v":"o","p":3,"alt":1648,"val":85.9},{"v":"o","p":3,"alt":1602,"val":87.9},{"v":"o","p":3,"alt":1587,"val":87.3},{"v":"o","p":3,"alt":1564,"val":85.2},{"v":"o","p":3,"alt":1495,"val":85.2},{"v":"o","p":3,"alt":1449,"val":83.8},{"v":"o","p":3,"alt":1434,"val":81.8},{"v":"o","p":3,"alt":1388,"val":79},{"v":"o","p":3,"alt":1342,"val":77.7},{"v":"o","p":3,"alt":1296,"val":77},{"v":"o","p":3,"alt":1266,"val":79.7},{"v":"o","p":3,"alt":1204,"val":79.7},{"v":"o","p":3,"alt":1128,"val":76.3},{"v":"o","p":3,"alt":1067,"val":76.3},{"v":"o","p":3,"alt":990,"val":75.6},{"v":"o","p":3,"alt":898,"val":76.3},{"v":"o","p":3,"alt":868,"val":76.3},{"v":"o","p":3,"alt":837,"val":77.7},{"v":"o","p":3,"alt":807,"val":74.9},{"v":"o","p":3,"alt":776,"val":72.2},{"v":"o","p":3,"alt":745,"val":70.1},
{"v":"o","p":4,"alt":1783,"val":81.5},{"v":"o","p":4,"alt":1770,"val":84.5},{"v":"o","p":4,"alt":1751,"val":91.4},{"v":"o","p":4,"alt":1725,"val":85.2},{"v":"o","p":4,"alt":1709,"val":83.2},{"v":"o","p":4,"alt":1663,"val":85.9},{"v":"o","p":4,"alt":1640,"val":89.3},{"v":"o","p":4,"alt":1610,"val":79.7},{"v":"o","p":4,"alt":1595,"val":87.3},{"v":"o","p":4,"alt":1572,"val":91.4},{"v":"o","p":4,"alt":1556,"val":85.2},{"v":"o","p":4,"alt":1541,"val":79.7},{"v":"o","p":4,"alt":1510,"val":77.7},{"v":"o","p":4,"alt":1472,"val":73.6},{"v":"o","p":4,"alt":1419,"val":74.9},{"v":"o","p":4,"alt":1342,"val":76.3},{"v":"o","p":4,"alt":1296,"val":76.3},{"v":"o","p":4,"alt":1235,"val":76.3},{"v":"o","p":4,"alt":1189,"val":74.9},{"v":"o","p":4,"alt":1143,"val":72.9},{"v":"o","p":4,"alt":1097,"val":69.5},{"v":"o","p":4,"alt":1036,"val":68.1},{"v":"o","p":4,"alt":990,"val":68.1},{"v":"o","p":4,"alt":944,"val":68.8},{"v":"o","p":4,"alt":883,"val":69.5},{"v":"o","p":4,"alt":822,"val":68.8},{"v":"o","p":4,"alt":807,"val":65.3},{"v":"o","p":4,"alt":776,"val":58.5},{"v":"o","p":4,"alt":738,"val":62.6},
{"v":"n","p":1,"alt":1908,"val":17030},{"v":"n","p":1,"alt":1816,"val":17300},{"v":"n","p":1,"alt":1801,"val":19190},{"v":"n","p":1,"alt":1770,"val":18140},{"v":"n","p":1,"alt":1755,"val":17030},{"v":"n","p":1,"alt":1740,"val":18440},{"v":"n","p":1,"alt":1679,"val":17710},{"v":"n","p":1,"alt":1618,"val":14520},{"v":"n","p":1,"alt":1605,"val":10160},{"v":"n","p":1,"alt":1595,"val":13960},{"v":"n","p":1,"alt":1541,"val":11450},{"v":"n","p":1,"alt":1549,"val":4410},{"v":"n","p":1,"alt":1518,"val":4250},{"v":"n","p":1,"alt":1510,"val":6560},{"v":"n","p":1,"alt":1487,"val":11450},{"v":"n","p":1,"alt":1457,"val":3620},{"v":"n","p":1,"alt":1434,"val":6560},{"v":"n","p":1,"alt":1411,"val":9770},{"v":"n","p":1,"alt":1396,"val":10990},
{"v":"n","p":2,"alt":1832,"val":22840},{"v":"n","p":2,"alt":1809,"val":18140},{"v":"n","p":2,"alt":1770,"val":21590},{"v":"n","p":2,"alt":1725,"val":18440},{"v":"n","p":2,"alt":1633,"val":19190},{"v":"n","p":2,"alt":1556,"val":18440},{"v":"n","p":2,"alt":1510,"val":23390},{"v":"n","p":2,"alt":1465,"val":21590},{"v":"n","p":2,"alt":1419,"val":23390},{"v":"n","p":2,"alt":1342,"val":19960},{"v":"n","p":2,"alt":1220,"val":21590},{"v":"n","p":2,"alt":1128,"val":20760},{"v":"n","p":2,"alt":1036,"val":19960},{"v":"n","p":2,"alt":914,"val":21590},{"v":"n","p":2,"alt":853,"val":20760},{"v":"n","p":2,"alt":807,"val":19960},{"v":"n","p":2,"alt":738,"val":19190},
{"v":"n","p":3,"alt":1755,"val":18140},{"v":"n","p":3,"alt":1679,"val":18140},{"v":"n","p":3,"alt":1618,"val":17710},{"v":"n","p":3,"alt":1495,"val":18440},{"v":"n","p":3,"alt":1342,"val":18440},{"v":"n","p":3,"alt":1189,"val":18440},{"v":"n","p":3,"alt":1067,"val":18140},{"v":"n","p":3,"alt":975,"val":19960},{"v":"n","p":3,"alt":914,"val":19190},{"v":"n","p":3,"alt":853,"val":19190},{"v":"n","p":3,"alt":776,"val":18440},
{"v":"n","p":4,"alt":1859,"val":14290},{"v":"n","p":4,"alt":1725,"val":14520},{"v":"n","p":4,"alt":1602,"val":13960},{"v":"n","p":4,"alt":1495,"val":14520},{"v":"n","p":4,"alt":1373,"val":15480},{"v":"n","p":4,"alt":1357,"val":17030},{"v":"n","p":4,"alt":1342,"val":15100},{"v":"n","p":4,"alt":1189,"val":15100},{"v":"n","p":4,"alt":1067,"val":14520},{"v":"n","p":4,"alt":1005,"val":18440},{"v":"n","p":4,"alt":944,"val":17030},{"v":"n","p":4,"alt":883,"val":16370},{"v":"n","p":4,"alt":807,"val":16370},{"v":"n","p":4,"alt":761,"val":15740},{"v":"n","p":4,"alt":742,"val":33440},
{"v":"h","p":1,"alt":1920,"val":28.7},{"v":"h","p":1,"alt":1885,"val":26},{"v":"h","p":1,"alt":1847,"val":26.4},{"v":"h","p":1,"alt":1832,"val":28},{"v":"h","p":1,"alt":1801,"val":27.6},{"v":"h","p":1,"alt":1786,"val":28.7},{"v":"h","p":1,"alt":1755,"val":27.6},{"v":"h","p":1,"alt":1694,"val":27.2},{"v":"h","p":1,"alt":1663,"val":24.8},{"v":"h","p":1,"alt":1633,"val":22.4},{"v":"h","p":1,"alt":1618,"val":20.9},{"v":"h","p":1,"alt":1602,"val":24},{"v":"h","p":1,"alt":1579,"val":21.7},{"v":"h","p":1,"alt":1556,"val":18.1},{"v":"h","p":1,"alt":1526,"val":19.7},{"v":"h","p":1,"alt":1510,"val":18.1},{"v":"h","p":1,"alt":1495,"val":20.1},{"v":"h","p":1,"alt":1480,"val":17.7},{"v":"h","p":1,"alt":1434,"val":19.7},{"v":"h","p":1,"alt":1411,"val":18.9},{"v":"h","p":1,"alt":1385,"val":22.8},
{"v":"h","p":2,"alt":1839,"val":28.1},{"v":"h","p":2,"alt":1801,"val":26.4},{"v":"h","p":2,"alt":1770,"val":27.2},{"v":"h","p":2,"alt":1694,"val":26.4},{"v":"h","p":2,"alt":1648,"val":26},{"v":"h","p":2,"alt":1602,"val":25.2},{"v":"h","p":2,"alt":1556,"val":24.8},{"v":"h","p":2,"alt":1495,"val":24},{"v":"h","p":2,"alt":1419,"val":24},{"v":"h","p":2,"alt":1357,"val":22},{"v":"h","p":2,"alt":1266,"val":21.3},{"v":"h","p":2,"alt":1189,"val":20.1},{"v":"h","p":2,"alt":1036,"val":20.5},{"v":"h","p":2,"alt":883,"val":20.1},{"v":"h","p":2,"alt":837,"val":18.9},{"v":"h","p":2,"alt":791,"val":17.7},{"v":"h","p":2,"alt":738,"val":19.3},{"v":"h","p":2,"alt":733,"val":22.4},
{"v":"h","p":3,"alt":1812,"val":23.4},{"v":"h","p":3,"alt":1770,"val":24},{"v":"h","p":3,"alt":1709,"val":24.4},{"v":"h","p":3,"alt":1648,"val":23.6},{"v":"h","p":3,"alt":1602,"val":22},{"v":"h","p":3,"alt":1556,"val":21.3},{"v":"h","p":3,"alt":1495,"val":20.5},{"v":"h","p":3,"alt":1373,"val":20.1},{"v":"h","p":3,"alt":1250,"val":19.7},{"v":"h","p":3,"alt":1159,"val":19.3},{"v":"h","p":3,"alt":1067,"val":17.7},{"v":"h","p":3,"alt":1005,"val":17.3},{"v":"h","p":3,"alt":883,"val":17.7},{"v":"h","p":3,"alt":807,"val":16.8},{"v":"h","p":3,"alt":738,"val":16.9},{"v":"h","p":3,"alt":733,"val":23.9},
{"v":"h","p":4,"alt":1855,"val":17.3},{"v":"h","p":4,"alt":1725,"val":17.2},{"v":"h","p":4,"alt":1618,"val":16.5},{"v":"h","p":4,"alt":1556,"val":16.1},{"v":"h","p":4,"alt":1510,"val":15.4},{"v":"h","p":4,"alt":1373,"val":15.4},{"v":"h","p":4,"alt":1266,"val":14.6},{"v":"h","p":4,"alt":1189,"val":14.2},{"v":"h","p":4,"alt":1097,"val":13},{"v":"h","p":4,"alt":1036,"val":12.6},{"v":"h","p":4,"alt":883,"val":12.2},{"v":"h","p":4,"alt":761,"val":12},{"v":"h","p":4,"alt":738,"val":15},
{"v":"t","p":1,"alt":1904,"val":15.7},{"v":"t","p":1,"alt":1824,"val":15.7},{"v":"t","p":1,"alt":1786,"val":17.1},{"v":"t","p":1,"alt":1725,"val":16.6},{"v":"t","p":1,"alt":1694,"val":16.3},{"v":"t","p":1,"alt":1648,"val":16.8},{"v":"t","p":1,"alt":1625,"val":17.6},{"v":"t","p":1,"alt":1587,"val":17.4},{"v":"t","p":1,"alt":1556,"val":18.1},{"v":"t","p":1,"alt":1510,"val":18.4},{"v":"t","p":1,"alt":1434,"val":18.5},{"v":"t","p":1,"alt":1388,"val":18.9},{"v":"t","p":1,"alt":1334,"val":19.2},
{"v":"t","p":2,"alt":1832,"val":18.3},{"v":"t","p":2,"alt":1770,"val":17.9},{"v":"t","p":2,"alt":1648,"val":18.2},{"v":"t","p":2,"alt":1587,"val":19},{"v":"t","p":2,"alt":1510,"val":20},{"v":"t","p":2,"alt":1472,"val":21.1},{"v":"t","p":2,"alt":1442,"val":21.7},{"v":"t","p":2,"alt":1357,"val":21.6},{"v":"t","p":2,"alt":1312,"val":22},{"v":"t","p":2,"alt":1281,"val":22.7},{"v":"t","p":2,"alt":1204,"val":23.1},{"v":"t","p":2,"alt":1174,"val":24.1},{"v":"t","p":2,"alt":1143,"val":24.6},{"v":"t","p":2,"alt":1097,"val":24.2},{"v":"t","p":2,"alt":1067,"val":24.7},{"v":"t","p":2,"alt":960,"val":25},{"v":"t","p":2,"alt":883,"val":25.5},{"v":"t","p":2,"alt":853,"val":26.6},{"v":"t","p":2,"alt":845,"val":29},{"v":"t","p":2,"alt":791,"val":28},{"v":"t","p":2,"alt":768,"val":29},{"v":"t","p":2,"alt":745,"val":29.6},
{"v":"t","p":3,"alt":1870,"val":21.2},{"v":"t","p":3,"alt":1770,"val":21.4},{"v":"t","p":3,"alt":1679,"val":22},{"v":"t","p":3,"alt":1587,"val":22.5},{"v":"t","p":3,"alt":1556,"val":23},{"v":"t","p":3,"alt":1526,"val":23.8},{"v":"t","p":3,"alt":1510,"val":24.6},{"v":"t","p":3,"alt":1434,"val":24.7},{"v":"t","p":3,"alt":1357,"val":25.2},{"v":"t","p":3,"alt":1312,"val":25.5},{"v":"t","p":3,"alt":1189,"val":25.8},{"v":"t","p":3,"alt":1113,"val":26.8},{"v":"t","p":3,"alt":1067,"val":28},{"v":"t","p":3,"alt":1005,"val":29.9},{"v":"t","p":3,"alt":960,"val":30.3},{"v":"t","p":3,"alt":837,"val":30.3},{"v":"t","p":3,"alt":791,"val":31.2},{"v":"t","p":3,"alt":761,"val":32.2},{"v":"t","p":3,"alt":745,"val":33.1},
{"v":"t","p":4,"alt":1862,"val":21.1},{"v":"t","p":4,"alt":1801,"val":21.1},{"v":"t","p":4,"alt":1740,"val":20.6},{"v":"t","p":4,"alt":1618,"val":20.4},{"v":"t","p":4,"alt":1587,"val":22.3},{"v":"t","p":4,"alt":1533,"val":23.3},{"v":"t","p":4,"alt":1480,"val":23.9},{"v":"t","p":4,"alt":1434,"val":23.6},{"v":"t","p":4,"alt":1388,"val":24.6},{"v":"t","p":4,"alt":1342,"val":25},{"v":"t","p":4,"alt":1281,"val":24.9},{"v":"t","p":4,"alt":1235,"val":25.3},{"v":"t","p":4,"alt":1159,"val":25.8},{"v":"t","p":4,"alt":1067,"val":26.8},{"v":"t","p":4,"alt":990,"val":28.8},{"v":"t","p":4,"alt":960,"val":27.9},{"v":"t","p":4,"alt":898,"val":28},{"v":"t","p":4,"alt":868,"val":29},{"v":"t","p":4,"alt":822,"val":29.1},{"v":"t","p":4,"alt":776,"val":30.3},{"v":"t","p":4,"alt":748,"val":31}
],
"r4":[
{"v":"o","p":1,"alt":1885,"val":64.5},{"v":"o","p":1,"alt":1830,"val":68.8},{"v":"o","p":1,"alt":1781,"val":68.1},{"v":"o","p":1,"alt":1773,"val":71.5},{"v":"o","p":1,"alt":1735,"val":70.1},{"v":"o","p":1,"alt":1696,"val":68.8},{"v":"o","p":1,"alt":1666,"val":66.8},{"v":"o","p":1,"alt":1627,"val":64.7},{"v":"o","p":1,"alt":1589,"val":63.4},{"v":"o","p":1,"alt":1551,"val":60.7},{"v":"o","p":1,"alt":1505,"val":60.4},{"v":"o","p":1,"alt":1459,"val":60.7},{"v":"o","p":1,"alt":1413,"val":61.3},{"v":"o","p":1,"alt":1367,"val":63.4},{"v":"o","p":1,"alt":1306,"val":64},{"v":"o","p":1,"alt":1278,"val":64.7},{"v":"o","p":1,"alt":1278,"val":71.5},{"v":"o","p":1,"alt":1267,"val":64.7},{"v":"o","p":1,"alt":1198,"val":64},{"v":"o","p":1,"alt":1152,"val":62},{"v":"o","p":1,"alt":1122,"val":63.4},{"v":"o","p":1,"alt":1091,"val":64.7},{"v":"o","p":1,"alt":1030,"val":63.4},{"v":"o","p":1,"alt":999,"val":60.7},{"v":"o","p":1,"alt":968,"val":61.3},{"v":"o","p":1,"alt":922,"val":62.7},{"v":"o","p":1,"alt":892,"val":64.7},{"v":"o","p":1,"alt":846,"val":64},{"v":"o","p":1,"alt":830,"val":61.3},{"v":"o","p":1,"alt":784,"val":60.7},{"v":"o","p":1,"alt":754,"val":60.7},{"v":"o","p":1,"alt":715,"val":63.4},
{"v":"o","p":2,"alt":1822,"val":71.5},{"v":"o","p":2,"alt":1824,"val":76.9},{"v":"o","p":2,"alt":1804,"val":72.6},{"v":"o","p":2,"alt":1781,"val":72.9},{"v":"o","p":2,"alt":1735,"val":75.6},{"v":"o","p":2,"alt":1727,"val":85.1},{"v":"o","p":2,"alt":1704,"val":75.6},{"v":"o","p":2,"alt":1673,"val":79.6},{"v":"o","p":2,"alt":1643,"val":76.9},{"v":"o","p":2,"alt":1566,"val":78.3},{"v":"o","p":2,"alt":1536,"val":75.6},{"v":"o","p":2,"alt":1474,"val":72.9},{"v":"o","p":2,"alt":1428,"val":72.9},{"v":"o","p":2,"alt":1398,"val":70.1},{"v":"o","p":2,"alt":1367,"val":72.2},{"v":"o","p":2,"alt":1306,"val":71.5},{"v":"o","p":2,"alt":1244,"val":72.2},{"v":"o","p":2,"alt":1191,"val":72.6},{"v":"o","p":2,"alt":1183,"val":66.1},{"v":"o","p":2,"alt":1106,"val":66.1},{"v":"o","p":2,"alt":1060,"val":67.4},{"v":"o","p":2,"alt":1014,"val":70.1},{"v":"o","p":2,"alt":968,"val":71.5},{"v":"o","p":2,"alt":907,"val":75.6},{"v":"o","p":2,"alt":892,"val":71.5},{"v":"o","p":2,"alt":861,"val":70.1},{"v":"o","p":2,"alt":846,"val":66.1},{"v":"o","p":2,"alt":815,"val":66.8},{"v":"o","p":2,"alt":784,"val":65.4},{"v":"o","p":2,"alt":746,"val":64.7},
{"v":"o","p":3,"alt":1854,"val":86.2},{"v":"o","p":3,"alt":1842,"val":82.4},{"v":"o","p":3,"alt":1796,"val":83},{"v":"o","p":3,"alt":1750,"val":83.7},{"v":"o","p":3,"alt":1719,"val":85.1},{"v":"o","p":3,"alt":1673,"val":81},{"v":"o","p":3,"alt":1627,"val":83},{"v":"o","p":3,"alt":1581,"val":83.7},{"v":"o","p":3,"alt":1505,"val":83},{"v":"o","p":3,"alt":1428,"val":82.4},{"v":"o","p":3,"alt":1367,"val":82.4},{"v":"o","p":3,"alt":1306,"val":81.7},{"v":"o","p":3,"alt":1275,"val":85.1},{"v":"o","p":3,"alt":1244,"val":82.4},{"v":"o","p":3,"alt":1183,"val":81},{"v":"o","p":3,"alt":1122,"val":79.9},{"v":"o","p":3,"alt":1060,"val":79},{"v":"o","p":3,"alt":1030,"val":76.9},{"v":"o","p":3,"alt":984,"val":76.3},{"v":"o","p":3,"alt":968,"val":77.6},{"v":"o","p":3,"alt":922,"val":75.6},{"v":"o","p":3,"alt":846,"val":75.3},{"v":"o","p":3,"alt":815,"val":77.6},{"v":"o","p":3,"alt":731,"val":78.3},
{"v":"o","p":4,"alt":1850,"val":85.3},{"v":"o","p":4,"alt":1827,"val":82.4},{"v":"o","p":4,"alt":1758,"val":83.7},{"v":"o","p":4,"alt":1727,"val":79.6},{"v":"o","p":4,"alt":1689,"val":77.6},{"v":"o","p":4,"alt":1612,"val":78.3},{"v":"o","p":4,"alt":1551,"val":75.6},{"v":"o","p":4,"alt":1536,"val":71.5},{"v":"o","p":4,"alt":1490,"val":70.8},{"v":"o","p":4,"alt":1486,"val":75.6},{"v":"o","p":4,"alt":1474,"val":78.3},{"v":"o","p":4,"alt":1451,"val":78.3},{"v":"o","p":4,"alt":1444,"val":72.9},{"v":"o","p":4,"alt":1398,"val":75.6},{"v":"o","p":4,"alt":1278,"val":78.3},{"v":"o","p":4,"alt":1198,"val":64.7},{"v":"o","p":4,"alt":1122,"val":64},{"v":"o","p":4,"alt":1060,"val":70.1},{"v":"o","p":4,"alt":999,"val":68.8},{"v":"o","p":4,"alt":976,"val":66.8},{"v":"o","p":4,"alt":968,"val":60.7},{"v":"o","p":4,"alt":953,"val":64.7},{"v":"o","p":4,"alt":907,"val":62},{"v":"o","p":4,"alt":876,"val":59.3},{"v":"o","p":4,"alt":846,"val":57.3},{"v":"o","p":4,"alt":769,"val":53.9},{"v":"o","p":4,"alt":741,"val":49.8},
{"v":"n","p":1,"alt":1896,"val":16670},{"v":"n","p":1,"alt":1811,"val":17090},{"v":"n","p":1,"alt":1704,"val":17090},{"v":"n","p":1,"alt":1689,"val":19270},{"v":"n","p":1,"alt":1643,"val":20050},{"v":"n","p":1,"alt":1581,"val":19270},{"v":"n","p":1,"alt":1505,"val":18070},{"v":"n","p":1,"alt":1428,"val":17780},{"v":"n","p":1,"alt":1336,"val":17490},{"v":"n","p":1,"alt":1244,"val":18070},{"v":"n","p":1,"alt":1122,"val":17490},{"v":"n","p":1,"alt":999,"val":17090},{"v":"n","p":1,"alt":907,"val":16670},{"v":"n","p":1,"alt":876,"val":15170},{"v":"n","p":1,"alt":861,"val":16400},{"v":"n","p":1,"alt":815,"val":15780},{"v":"n","p":1,"alt":769,"val":15170},{"v":"n","p":1,"alt":738,"val":12910},
{"v":"n","p":2,"alt":1811,"val":19590},{"v":"n","p":2,"alt":1735,"val":20840},{"v":"n","p":2,"alt":1658,"val":20840},{"v":"n","p":2,"alt":1581,"val":20050},{"v":"n","p":2,"alt":1459,"val":20840},{"v":"n","p":2,"alt":1398,"val":20050},{"v":"n","p":2,"alt":1275,"val":19270},{"v":"n","p":2,"alt":1122,"val":20050},{"v":"n","p":2,"alt":999,"val":19270},{"v":"n","p":2,"alt":968,"val":20840},{"v":"n","p":2,"alt":892,"val":19270},{"v":"n","p":2,"alt":815,"val":18490},{"v":"n","p":2,"alt":746,"val":18490},
{"v":"n","p":3,"alt":1891,"val":17490},{"v":"n","p":3,"alt":1765,"val":17490},{"v":"n","p":3,"alt":1689,"val":17780},{"v":"n","p":3,"alt":1666,"val":16400},{"v":"n","p":3,"alt":1581,"val":17090},{"v":"n","p":3,"alt":1459,"val":16670},{"v":"n","p":3,"alt":1336,"val":17090},{"v":"n","p":3,"alt":1214,"val":17780},{"v":"n","p":3,"alt":1091,"val":17090},{"v":"n","p":3,"alt":968,"val":17490},{"v":"n","p":3,"alt":876,"val":17780},{"v":"n","p":3,"alt":815,"val":16670},{"v":"n","p":3,"alt":738,"val":17090},
{"v":"n","p":4,"alt":1854,"val":13430},{"v":"n","p":4,"alt":1735,"val":12910},{"v":"n","p":4,"alt":1581,"val":13430},{"v":"n","p":4,"alt":1428,"val":13120},{"v":"n","p":4,"alt":1275,"val":13430},{"v":"n","p":4,"alt":1152,"val":13430},{"v":"n","p":4,"alt":1030,"val":12910},{"v":"n","p":4,"alt":922,"val":13990},{"v":"n","p":4,"alt":861,"val":14550},{"v":"n","p":4,"alt":815,"val":16400},{"v":"n","p":4,"alt":807,"val":20840},{"v":"n","p":4,"alt":800,"val":14550},{"v":"n","p":4,"alt":769,"val":15780},{"v":"n","p":4,"alt":726,"val":15170},
{"v":"h","p":1,"alt":1893,"val":27.2},{"v":"h","p":1,"alt":1880,"val":23.7},{"v":"h","p":1,"alt":1842,"val":23.7},{"v":"h","p":1,"alt":1811,"val":25.6},{"v":"h","p":1,"alt":1758,"val":26},{"v":"h","p":1,"alt":1742,"val":25.2},{"v":"h","p":1,"alt":1704,"val":23.3},{"v":"h","p":1,"alt":1658,"val":24.5},{"v":"h","p":1,"alt":1581,"val":24.1},{"v":"h","p":1,"alt":1536,"val":23.7},{"v":"h","p":1,"alt":1474,"val":23.3},{"v":"h","p":1,"alt":1413,"val":22.1},{"v":"h","p":1,"alt":1336,"val":22.1},{"v":"h","p":1,"alt":1275,"val":21.7},{"v":"h","p":1,"alt":1214,"val":21.3},{"v":"h","p":1,"alt":1168,"val":20.2},{"v":"h","p":1,"alt":1122,"val":19.8},{"v":"h","p":1,"alt":1091,"val":20.5},{"v":"h","p":1,"alt":1060,"val":19.8},{"v":"h","p":1,"alt":999,"val":20.2},{"v":"h","p":1,"alt":968,"val":20.9},{"v":"h","p":1,"alt":876,"val":20.5},{"v":"h","p":1,"alt":846,"val":19},{"v":"h","p":1,"alt":800,"val":18.2},{"v":"h","p":1,"alt":761,"val":19.4},{"v":"h","p":1,"alt":731,"val":20.5},
{"v":"h","p":2,"alt":1822,"val":18.2},{"v":"h","p":2,"alt":1735,"val":18},{"v":"h","p":2,"alt":1581,"val":17.8},{"v":"h","p":2,"alt":1428,"val":17.7},{"v":"h","p":2,"alt":1275,"val":17.4},{"v":"h","p":2,"alt":1122,"val":17.3},{"v":"h","p":2,"alt":968,"val":17},{"v":"h","p":2,"alt":815,"val":16.8},{"v":"h","p":2,"alt":741,"val":16.8},
{"v":"h","p":3,"alt":1834,"val":22.1},{"v":"h","p":3,"alt":1796,"val":21.3},{"v":"h","p":3,"alt":1750,"val":21.7},{"v":"h","p":3,"alt":1704,"val":20.9},{"v":"h","p":3,"alt":1643,"val":20.2},{"v":"h","p":3,"alt":1581,"val":20.5},{"v":"h","p":3,"alt":1551,"val":19.4},{"v":"h","p":3,"alt":1459,"val":19.4},{"v":"h","p":3,"alt":1398,"val":19.8},{"v":"h","p":3,"alt":1336,"val":18.6},{"v":"h","p":3,"alt":1275,"val":17.8},{"v":"h","p":3,"alt":1214,"val":17.4},{"v":"h","p":3,"alt":1152,"val":16.3},{"v":"h","p":3,"alt":1091,"val":16.3},{"v":"h","p":3,"alt":968,"val":15.1},{"v":"h","p":3,"alt":907,"val":14.7},{"v":"h","p":3,"alt":861,"val":15.1},{"v":"h","p":3,"alt":815,"val":14.7},{"v":"h","p":3,"alt":754,"val":15.1},{"v":"h","p":3,"alt":715,"val":14.7},
{"v":"h","p":4,"alt":1850,"val":14.1},{"v":"h","p":4,"alt":1811,"val":15.1},{"v":"h","p":4,"alt":1735,"val":14.3},{"v":"h","p":4,"alt":1658,"val":14.7},{"v":"h","p":4,"alt":1581,"val":14.3},{"v":"h","p":4,"alt":1505,"val":15.1},{"v":"h","p":4,"alt":1428,"val":14.7},{"v":"h","p":4,"alt":1336,"val":15.1},{"v":"h","p":4,"alt":1275,"val":14.3},{"v":"h","p":4,"alt":1183,"val":13.9},{"v":"h","p":4,"alt":1106,"val":13.5},{"v":"h","p":4,"alt":1030,"val":13.1},{"v":"h","p":4,"alt":1007,"val":12.7},{"v":"h","p":4,"alt":938,"val":13.1},{"v":"h","p":4,"alt":846,"val":13.5},{"v":"h","p":4,"alt":738,"val":13.1},
{"v":"t","p":1,"alt":1893,"val":15.1},{"v":"t","p":1,"alt":1888,"val":16.6},{"v":"t","p":1,"alt":1873,"val":18.2},{"v":"t","p":1,"alt":1842,"val":17.9},{"v":"t","p":1,"alt":1811,"val":17.1},{"v":"t","p":1,"alt":1781,"val":16.9},{"v":"t","p":1,"alt":1735,"val":17.1},{"v":"t","p":1,"alt":1727,"val":18},{"v":"t","p":1,"alt":1704,"val":18.4},{"v":"t","p":1,"alt":1658,"val":17.6},{"v":"t","p":1,"alt":1666,"val":19},{"v":"t","p":1,"alt":1643,"val":19.3},{"v":"t","p":1,"alt":1627,"val":19.8},{"v":"t","p":1,"alt":1589,"val":19.2},{"v":"t","p":1,"alt":1566,"val":19.6},{"v":"t","p":1,"alt":1536,"val":20.6},{"v":"t","p":1,"alt":1474,"val":21.1},{"v":"t","p":1,"alt":1459,"val":20.9},{"v":"t","p":1,"alt":1413,"val":21.7},{"v":"t","p":1,"alt":1398,"val":21.4},{"v":"t","p":1,"alt":1382,"val":20.9},{"v":"t","p":1,"alt":1336,"val":21.5},{"v":"t","p":1,"alt":1321,"val":22.2},{"v":"t","p":1,"alt":1260,"val":22.7},{"v":"t","p":1,"alt":1214,"val":22.5},{"v":"t","p":1,"alt":1183,"val":23.5},{"v":"t","p":1,"alt":1106,"val":23.3},{"v":"t","p":1,"alt":1060,"val":24.4},{"v":"t","p":1,"alt":1014,"val":23.5},{"v":"t","p":1,"alt":984,"val":23.3},{"v":"t","p":1,"alt":938,"val":24.1},{"v":"t","p":1,"alt":876,"val":24.1},{"v":"t","p":1,"alt":853,"val":25.4},{"v":"t","p":1,"alt":823,"val":25.5},{"v":"t","p":1,"alt":815,"val":27.1},{"v":"t","p":1,"alt":754,"val":27.6},{"v":"t","p":1,"alt":715,"val":27.7},
{"v":"t","p":2,"alt":1827,"val":19.8},{"v":"t","p":2,"alt":1781,"val":19.2},{"v":"t","p":2,"alt":1719,"val":19},{"v":"t","p":2,"alt":1689,"val":19.6},{"v":"t","p":2,"alt":1658,"val":20.1},{"v":"t","p":2,"alt":1612,"val":19.8},{"v":"t","p":2,"alt":1566,"val":20},{"v":"t","p":2,"alt":1520,"val":20.4},{"v":"t","p":2,"alt":1474,"val":20.8},{"v":"t","p":2,"alt":1428,"val":20.9},{"v":"t","p":2,"alt":1382,"val":21.4},{"v":"t","p":2,"alt":1329,"val":21.9},{"v":"t","p":2,"alt":1313,"val":22.5},{"v":"t","p":2,"alt":1260,"val":22.8},{"v":"t","p":2,"alt":1214,"val":23.1},{"v":"t","p":2,"alt":1168,"val":23.8},{"v":"t","p":2,"alt":1122,"val":24.2},{"v":"t","p":2,"alt":1106,"val":25},{"v":"t","p":2,"alt":1030,"val":25.4},{"v":"t","p":2,"alt":968,"val":26.3},{"v":"t","p":2,"alt":922,"val":27.3},{"v":"t","p":2,"alt":892,"val":28.5},{"v":"t","p":2,"alt":861,"val":29.8},{"v":"t","p":2,"alt":830,"val":28.9},{"v":"t","p":2,"alt":815,"val":29.3},{"v":"t","p":2,"alt":769,"val":29.5},{"v":"t","p":2,"alt":738,"val":30.5},{"v":"t","p":2,"alt":720,"val":31.4},
{"v":"t","p":3,"alt":1854,"val":21.7},{"v":"t","p":3,"alt":1765,"val":21.9},{"v":"t","p":3,"alt":1689,"val":22.2},{"v":"t","p":3,"alt":1589,"val":22.7},{"v":"t","p":3,"alt":1566,"val":23.6},{"v":"t","p":3,"alt":1551,"val":24.6},{"v":"t","p":3,"alt":1459,"val":24.4},{"v":"t","p":3,"alt":1367,"val":25},{"v":"t","p":3,"alt":1321,"val":25.8},{"v":"t","p":3,"alt":1290,"val":26.6},{"v":"t","p":3,"alt":1244,"val":27.3},{"v":"t","p":3,"alt":1198,"val":28.5},{"v":"t","p":3,"alt":1122,"val":28.5},{"v":"t","p":3,"alt":1060,"val":29.5},{"v":"t","p":3,"alt":1014,"val":30.5},{"v":"t","p":3,"alt":984,"val":30.1},{"v":"t","p":3,"alt":953,"val":30.8},{"v":"t","p":3,"alt":922,"val":31.4},{"v":"t","p":3,"alt":861,"val":31.4},{"v":"t","p":3,"alt":815,"val":32.4},{"v":"t","p":3,"alt":769,"val":33.5},{"v":"t","p":3,"alt":715,"val":34.6},
{"v":"t","p":4,"alt":1850,"val":23.8},{"v":"t","p":4,"alt":1811,"val":24.9},{"v":"t","p":4,"alt":1781,"val":24.4},{"v":"t","p":4,"alt":1735,"val":24.1},{"v":"t","p":4,"alt":1673,"val":24.4},{"v":"t","p":4,"alt":1612,"val":24.2},{"v":"t","p":4,"alt":1536,"val":24.9},{"v":"t","p":4,"alt":1520,"val":24.2},{"v":"t","p":4,"alt":1444,"val":24.2},{"v":"t","p":4,"alt":1382,"val":24.7},{"v":"t","p":4,"alt":1321,"val":25.7},{"v":"t","p":4,"alt":1275,"val":26.2},{"v":"t","p":4,"alt":1214,"val":26.3},{"v":"t","p":4,"alt":1152,"val":27.3},{"v":"t","p":4,"alt":1091,"val":27.6},{"v":"t","p":4,"alt":1030,"val":28.2},{"v":"t","p":4,"alt":968,"val":28.5},{"v":"t","p":4,"alt":846,"val":29.2},{"v":"t","p":4,"alt":784,"val":29.8},{"v":"t","p":4,"alt":738,"val":30.5},{"v":"t","p":4,"alt":726,"val":30.8}
]
},
"columns":4,
"spacing":{"row":44,"column":0},
"bounds":"flush",
"resolve":{"scale":{"color":"independent","x":"independent","y":"independent"}},
"concat":[
{"width":244,"height":305,"layer":[
{"data":{"name":"r1"},"transform":[{"filter":"datum.v==='o'"}],"mark":{"type":"line"},
"encoding":{
"x":{"field":"val","type":"quantitative","scale":{"domain":[0,100],"nice":false,"zero":false},"axis":{"orient":"top","values":[0,25,50,75,100],"title":"O₃ (ppb)","titleX":133,"titleY":-40,"titleBaseline":"middle","titleAlign":"center","labelPadding":3,"gridOpacity":{"condition":{"test":"datum.value===0||datum.value===100","value":0},"value":1}}},
"y":{"field":"alt","type":"quantitative","scale":{"domain":[600,2000],"nice":false,"zero":false},"axis":{"values":[600,800,1000,1200,1400,1600,1800,2000],"format":"d","title":"m a.s.l.","titleX":-88,"titleY":180,"titleAngle":-90,"titleBaseline":"middle","titleAlign":"center","labelPadding":14,"gridOpacity":{"condition":{"test":"datum.value===600||datum.value===2000","value":0},"value":1}}},
"color":{"field":"p","type":"nominal","scale":{"domain":[1,2,3,4],"range":["#4A7EBB","#1BA1E2","#92D050","#2ED62E"]},"legend":{"orient":"none","legendX":80,"legendY":-86,"direction":"horizontal","columns":4,"title":"UTC, hh:mm","titleOrient":"right","titleAnchor":"end","titleBaseline":"bottom","titlePadding":11,"titleFontSize":18,"titleFontWeight":"bold","titleColor":"#000000","labelFontSize":18,"labelColor":"#000000","labelOffset":5,"columnPadding":20,"symbolType":"stroke","symbolSize":841,"symbolStrokeWidth":1.6,"labelExpr":"['08:05-08:20','08:50-09:07','09:27-09:35','10:45-11:01'][datum.value-1]"}},
"strokeWidth":{"condition":{"test":"datum.p===3","value":3.2},"value":1.6},
"order":{"value":null}}},
{"data":{"values":[{}]},"mark":{"type":"text","align":"left","baseline":"middle","fontSize":16,"fontWeight":"bold"},"encoding":{"x":{"datum":11},"y":{"datum":1888},"text":{"value":"14/07/2016"}}},
{"data":{"values":[{}]},"mark":{"type":"text","align":"center","baseline":"middle","fontSize":28,"fontWeight":"bold"},"encoding":{"x":{"datum":11.5},"y":{"datum":1289},"text":{"value":"A"}}}
]},
{"width":190,"height":305,"resolve":{"axis":{"x":"independent"}},"layer":[
{"data":{"name":"r1"},"transform":[{"filter":"datum.v==='n'"}],"mark":{"type":"line"},
"encoding":{
"x":{"field":"val","type":"quantitative","scale":{"type":"log","domain":[1000,100000],"nice":false},"axis":{"orient":"bottom","values":[1000,2000,3000,4000,5000,6000,7000,8000,9000,10000,20000,30000,40000,50000,60000,70000,80000,90000,100000],"ticks":true,"tickSize":-4,"tickColor":"#555555","labels":false,"title":null,"gridOpacity":{"condition":{"test":"datum.value===10000","value":1},"value":0}}},
"y":{"field":"alt","type":"quantitative","scale":{"domain":[600,2000],"nice":false,"zero":false},"axis":{"values":[600,800,1000,1200,1400,1600,1800,2000],"labels":false,"title":null,"gridOpacity":{"condition":{"test":"datum.value===600||datum.value===2000","value":0},"value":1}}},
"color":{"field":"p","type":"nominal","scale":{"domain":[1,2,3,4],"range":["#4A7EBB","#1BA1E2","#92D050","#2ED62E"]},"legend":null},
"strokeWidth":{"condition":{"test":"datum.p===3","value":3.2},"value":1.6},
"order":{"value":null}}},
{"data":{"values":[]},"mark":{"type":"point"},"encoding":{"x":{"field":"val","type":"quantitative","axis":{"orient":"top","values":[1000,2000,3000,4000,5000,6000,7000,8000,9000,10000,20000,30000,40000,50000,60000,70000,80000,90000,100000],"ticks":true,"tickSize":-4,"tickColor":"#555555","labels":false,"grid":false,"title":null}}}}
]},
{"width":173,"height":305,"data":{"name":"r1"},"transform":[{"filter":"datum.v==='h'"}],"mark":{"type":"line"},
"encoding":{
"x":{"field":"val","type":"quantitative","scale":{"domain":[10,50],"nice":false,"zero":false},"axis":{"orient":"top","values":[10,20,30,40,50],"title":"RH (%)","titleX":81,"titleY":-40,"titleBaseline":"middle","titleAlign":"center","labelPadding":3,"gridOpacity":{"condition":{"test":"datum.value===10||datum.value===50","value":0},"value":1}}},
"y":{"field":"alt","type":"quantitative","scale":{"domain":[600,2000],"nice":false,"zero":false},"axis":{"values":[600,800,1000,1200,1400,1600,1800,2000],"labels":false,"title":null,"gridOpacity":{"condition":{"test":"datum.value===600||datum.value===2000","value":0},"value":1}}},
"color":{"field":"p","type":"nominal","scale":{"domain":[1,2,3,4],"range":["#4A7EBB","#1BA1E2","#92D050","#2ED62E"]},"legend":null},
"strokeWidth":{"condition":{"test":"datum.p===3","value":3.2},"value":1.6},
"order":{"value":null}}},
{"width":263,"height":305,"data":{"name":"r1"},"transform":[{"filter":"datum.v==='t'"}],"mark":{"type":"line"},
"encoding":{
"x":{"field":"val","type":"quantitative","scale":{"domain":[10,35],"nice":false,"zero":false},"axis":{"orient":"bottom","values":[10,15,20,25,30,35],"labels":false,"title":null,"gridOpacity":{"condition":{"test":"datum.value===10||datum.value===35","value":0},"value":1}}},
"y":{"field":"alt","type":"quantitative","scale":{"domain":[600,2000],"nice":false,"zero":false},"axis":{"values":[600,800,1000,1200,1400,1600,1800,2000],"labels":false,"title":null,"gridOpacity":{"condition":{"test":"datum.value===600||datum.value===2000","value":0},"value":1}}},
"color":{"field":"p","type":"nominal","scale":{"domain":[1,2,3,4],"range":["#4A7EBB","#1BA1E2","#92D050","#2ED62E"]},"legend":null},
"strokeWidth":{"condition":{"test":"datum.p===3","value":3.2},"value":1.6},
"order":{"value":null}}},

{"width":244,"height":305,"layer":[
{"data":{"name":"r2"},"transform":[{"filter":"datum.v==='o'"}],"mark":{"type":"line"},
"encoding":{
"x":{"field":"val","type":"quantitative","scale":{"domain":[0,100],"nice":false,"zero":false},"axis":{"orient":"top","values":[0,25,50,75,100],"labels":false,"title":null,"gridOpacity":{"condition":{"test":"datum.value===0||datum.value===100","value":0},"value":1}}},
"y":{"field":"alt","type":"quantitative","scale":{"domain":[600,2000],"nice":false,"zero":false},"axis":{"values":[600,800,1000,1200,1400,1600,1800,2000],"format":"d","title":"m a.s.l.","titleX":-88,"titleY":145,"titleAngle":-90,"titleBaseline":"middle","titleAlign":"center","labelPadding":14,"gridOpacity":{"condition":{"test":"datum.value===600||datum.value===2000","value":0},"value":1}}},
"color":{"field":"p","type":"nominal","scale":{"domain":[1,2,3,4],"range":["#3A66AA","#1BA1E2","#92D050","#2ED62E"]},"legend":{"orient":"none","legendX":80,"legendY":-33,"direction":"horizontal","columns":4,"title":"UTC, hh:mm","titleOrient":"right","titleAnchor":"end","titleBaseline":"bottom","titlePadding":11,"titleFontSize":18,"titleFontWeight":"bold","titleColor":"#000000","labelFontSize":18,"labelColor":"#000000","labelOffset":5,"columnPadding":20,"symbolType":"stroke","symbolSize":841,"symbolStrokeWidth":1.6,"labelExpr":"['08:20-08:46','09:07-09:25','10:35-10:43','11:01-11:23'][datum.value-1]"}},
"strokeWidth":{"condition":{"test":"datum.p===3","value":3.2},"value":1.6},
"order":{"value":null}}},
{"data":{"values":[{}]},"mark":{"type":"text","align":"left","baseline":"middle","fontSize":16,"fontWeight":"bold"},"encoding":{"x":{"datum":9.4},"y":{"datum":1885},"text":{"value":"14/07/2016"}}},
{"data":{"values":[{}]},"mark":{"type":"text","align":"center","baseline":"middle","fontSize":28,"fontWeight":"bold"},"encoding":{"x":{"datum":9.8},"y":{"datum":1290},"text":{"value":"D"}}}
]},
{"width":190,"height":305,"resolve":{"axis":{"x":"independent"}},"layer":[
{"data":{"name":"r2"},"transform":[{"filter":"datum.v==='n'"}],"mark":{"type":"line"},
"encoding":{
"x":{"field":"val","type":"quantitative","scale":{"type":"log","domain":[1000,100000],"nice":false},"axis":{"orient":"bottom","values":[1000,2000,3000,4000,5000,6000,7000,8000,9000,10000,20000,30000,40000,50000,60000,70000,80000,90000,100000],"ticks":true,"tickSize":-4,"tickColor":"#555555","labelExpr":"datum.value===1000?'10³':datum.value===10000?'10⁴':datum.value===100000?'10⁵':''","labelPadding":12,"labelOffset":4,"title":"PN₃₋₃₀₀ (#/cm³)","titleX":97,"titleY":40,"titleBaseline":"middle","titleAlign":"center","gridOpacity":{"condition":{"test":"datum.value===10000","value":1},"value":0}}},
"y":{"field":"alt","type":"quantitative","scale":{"domain":[600,2000],"nice":false,"zero":false},"axis":{"values":[600,800,1000,1200,1400,1600,1800,2000],"labels":false,"title":null,"gridOpacity":{"condition":{"test":"datum.value===600||datum.value===2000","value":0},"value":1}}},
"color":{"field":"p","type":"nominal","scale":{"domain":[1,2,3,4],"range":["#3A66AA","#1BA1E2","#92D050","#2ED62E"]},"legend":null},
"strokeWidth":{"condition":{"test":"datum.p===3","value":3.2},"value":1.6},
"order":{"value":null}}},
{"data":{"values":[]},"mark":{"type":"point"},"encoding":{"x":{"field":"val","type":"quantitative","axis":{"orient":"top","values":[1000,2000,3000,4000,5000,6000,7000,8000,9000,10000,20000,30000,40000,50000,60000,70000,80000,90000,100000],"ticks":true,"tickSize":-4,"tickColor":"#555555","labels":false,"grid":false,"title":null}}}}
]},
{"width":173,"height":305,"data":{"name":"r2"},"transform":[{"filter":"datum.v==='h'"}],"mark":{"type":"line"},
"encoding":{
"x":{"field":"val","type":"quantitative","scale":{"domain":[10,50],"nice":false,"zero":false},"axis":{"orient":"top","values":[10,20,30,40,50],"labels":false,"title":null,"gridOpacity":{"condition":{"test":"datum.value===10||datum.value===50","value":0},"value":1}}},
"y":{"field":"alt","type":"quantitative","scale":{"domain":[600,2000],"nice":false,"zero":false},"axis":{"values":[600,800,1000,1200,1400,1600,1800,2000],"labels":false,"title":null,"gridOpacity":{"condition":{"test":"datum.value===600||datum.value===2000","value":0},"value":1}}},
"color":{"field":"p","type":"nominal","scale":{"domain":[1,2,3,4],"range":["#3A66AA","#1BA1E2","#92D050","#2ED62E"]},"legend":null},
"strokeWidth":{"condition":{"test":"datum.p===3","value":3.2},"value":1.6},
"order":{"value":null}}},
{"width":263,"height":305,"data":{"name":"r2"},"transform":[{"filter":"datum.v==='t'"}],"mark":{"type":"line"},
"encoding":{
"x":{"field":"val","type":"quantitative","scale":{"domain":[10,35],"nice":false,"zero":false},"axis":{"orient":"bottom","values":[10,15,20,25,30,35],"labelPadding":8,"title":"T (ᵒC)","titleX":139,"titleY":40,"titleBaseline":"middle","titleAlign":"center","gridOpacity":{"condition":{"test":"datum.value===10||datum.value===35","value":0},"value":1}}},
"y":{"field":"alt","type":"quantitative","scale":{"domain":[600,2000],"nice":false,"zero":false},"axis":{"values":[600,800,1000,1200,1400,1600,1800,2000],"labels":false,"title":null,"gridOpacity":{"condition":{"test":"datum.value===600||datum.value===2000","value":0},"value":1}}},
"color":{"field":"p","type":"nominal","scale":{"domain":[1,2,3,4],"range":["#3A66AA","#1BA1E2","#92D050","#2ED62E"]},"legend":null},
"strokeWidth":{"condition":{"test":"datum.p===3","value":3.2},"value":1.6},
"order":{"value":null}}},

{"width":10,"height":68,"data":{"values":[]},"mark":{"type":"point"},"view":{"stroke":null}},
{"width":10,"height":68,"data":{"values":[]},"mark":{"type":"point"},"view":{"stroke":null}},
{"width":10,"height":68,"data":{"values":[]},"mark":{"type":"point"},"view":{"stroke":null}},
{"width":10,"height":68,"data":{"values":[]},"mark":{"type":"point"},"view":{"stroke":null}},

{"width":244,"height":305,"layer":[
{"data":{"name":"r3"},"transform":[{"filter":"datum.v==='o'"}],"mark":{"type":"line","strokeWidth":1.6},
"encoding":{
"x":{"field":"val","type":"quantitative","scale":{"domain":[0,100],"nice":false,"zero":false},"axis":{"orient":"top","values":[0,25,50,75,100],"title":"O₃ (ppb)","titleX":133,"titleY":-40,"titleBaseline":"middle","titleAlign":"center","labelPadding":3,"gridOpacity":{"condition":{"test":"datum.value===0||datum.value===100","value":0},"value":1}}},
"y":{"field":"alt","type":"quantitative","scale":{"domain":[600,2000],"nice":false,"zero":false},"axis":{"values":[600,800,1000,1200,1400,1600,1800,2000],"format":"d","title":"m a.s.l.","titleX":-88,"titleY":179,"titleAngle":-90,"titleBaseline":"middle","titleAlign":"center","labelPadding":14,"gridOpacity":{"condition":{"test":"datum.value===600||datum.value===2000","value":0},"value":1}}},
"color":{"field":"p","type":"nominal","scale":{"domain":[1,2,3,4],"range":["#FF0000","#FFC000","#556B2F","#574B30"]},"legend":{"orient":"none","legendX":80,"legendY":-89,"direction":"horizontal","columns":4,"title":"UTC, hh:mm","titleOrient":"right","titleAnchor":"end","titleBaseline":"bottom","titlePadding":11,"titleFontSize":18,"titleFontWeight":"bold","titleColor":"#000000","labelFontSize":18,"labelColor":"#000000","labelOffset":5,"columnPadding":20,"symbolType":"stroke","symbolSize":841,"symbolStrokeWidth":1.6,"labelExpr":"['12:03-12:16','13:25-13:48','15:36-15:55','17:13-17:30'][datum.value-1]"}},
"order":{"value":null}}},
{"data":{"values":[{}]},"mark":{"type":"text","align":"left","baseline":"middle","fontSize":16,"fontWeight":"bold"},"encoding":{"x":{"datum":7.8},"y":{"datum":1891},"text":{"value":"14/07/2016"}}},
{"data":{"values":[{}]},"mark":{"type":"text","align":"center","baseline":"middle","fontSize":28,"fontWeight":"bold"},"encoding":{"x":{"datum":11.5},"y":{"datum":1289},"text":{"value":"A"}}}
]},
{"width":190,"height":305,"resolve":{"axis":{"x":"independent"}},"layer":[
{"data":{"name":"r3"},"transform":[{"filter":"datum.v==='n'"}],"mark":{"type":"line","strokeWidth":1.6},
"encoding":{
"x":{"field":"val","type":"quantitative","scale":{"type":"log","domain":[1000,100000],"nice":false},"axis":{"orient":"bottom","values":[1000,2000,3000,4000,5000,6000,7000,8000,9000,10000,20000,30000,40000,50000,60000,70000,80000,90000,100000],"ticks":true,"tickSize":-4,"tickColor":"#555555","labels":false,"title":null,"gridOpacity":{"condition":{"test":"datum.value===10000","value":1},"value":0}}},
"y":{"field":"alt","type":"quantitative","scale":{"domain":[600,2000],"nice":false,"zero":false},"axis":{"values":[600,800,1000,1200,1400,1600,1800,2000],"labels":false,"title":null,"gridOpacity":{"condition":{"test":"datum.value===600||datum.value===2000","value":0},"value":1}}},
"color":{"field":"p","type":"nominal","scale":{"domain":[1,2,3,4],"range":["#FF0000","#FFC000","#556B2F","#574B30"]},"legend":null},
"order":{"value":null}}},
{"data":{"values":[]},"mark":{"type":"point"},"encoding":{"x":{"field":"val","type":"quantitative","axis":{"orient":"top","values":[1000,2000,3000,4000,5000,6000,7000,8000,9000,10000,20000,30000,40000,50000,60000,70000,80000,90000,100000],"ticks":true,"tickSize":-4,"tickColor":"#555555","labels":false,"grid":false,"title":null}}}}
]},
{"width":173,"height":305,"data":{"name":"r3"},"transform":[{"filter":"datum.v==='h'"}],"mark":{"type":"line","strokeWidth":1.6},
"encoding":{
"x":{"field":"val","type":"quantitative","scale":{"domain":[10,50],"nice":false,"zero":false},"axis":{"orient":"top","values":[10,20,30,40,50],"title":"RH (%)","titleX":81,"titleY":-40,"titleBaseline":"middle","titleAlign":"center","labelPadding":3,"gridOpacity":{"condition":{"test":"datum.value===10||datum.value===50","value":0},"value":1}}},
"y":{"field":"alt","type":"quantitative","scale":{"domain":[600,2000],"nice":false,"zero":false},"axis":{"values":[600,800,1000,1200,1400,1600,1800,2000],"labels":false,"title":null,"gridOpacity":{"condition":{"test":"datum.value===600||datum.value===2000","value":0},"value":1}}},
"color":{"field":"p","type":"nominal","scale":{"domain":[1,2,3,4],"range":["#FF0000","#FFC000","#556B2F","#574B30"]},"legend":null},
"order":{"value":null}}},
{"width":263,"height":305,"data":{"name":"r3"},"transform":[{"filter":"datum.v==='t'"}],"mark":{"type":"line","strokeWidth":1.6},
"encoding":{
"x":{"field":"val","type":"quantitative","scale":{"domain":[10,35],"nice":false,"zero":false},"axis":{"orient":"bottom","values":[10,15,20,25,30,35],"labels":false,"title":null,"gridOpacity":{"condition":{"test":"datum.value===10||datum.value===35","value":0},"value":1}}},
"y":{"field":"alt","type":"quantitative","scale":{"domain":[600,2000],"nice":false,"zero":false},"axis":{"values":[600,800,1000,1200,1400,1600,1800,2000],"labels":false,"title":null,"gridOpacity":{"condition":{"test":"datum.value===600||datum.value===2000","value":0},"value":1}}},
"color":{"field":"p","type":"nominal","scale":{"domain":[1,2,3,4],"range":["#FF0000","#FFC000","#556B2F","#574B30"]},"legend":null},
"order":{"value":null}}},

{"width":244,"height":305,"layer":[
{"data":{"name":"r4"},"transform":[{"filter":"datum.v==='o'"}],"mark":{"type":"line","strokeWidth":1.6},
"encoding":{
"x":{"field":"val","type":"quantitative","scale":{"domain":[0,100],"nice":false,"zero":false},"axis":{"orient":"top","values":[0,25,50,75,100],"labels":false,"title":null,"gridOpacity":{"condition":{"test":"datum.value===0||datum.value===100","value":0},"value":1}}},
"y":{"field":"alt","type":"quantitative","scale":{"domain":[600,2000],"nice":false,"zero":false},"axis":{"values":[600,800,1000,1200,1400,1600,1800,2000],"format":"d","title":"m a.s.l.","titleX":-88,"titleY":134,"titleAngle":-90,"titleBaseline":"middle","titleAlign":"center","labelPadding":14,"gridOpacity":{"condition":{"test":"datum.value===600||datum.value===2000","value":0},"value":1}}},
"color":{"field":"p","type":"nominal","scale":{"domain":[1,2,3,4],"range":["#FF0000","#FFC000","#556B2F","#574B30"]},"legend":{"orient":"none","legendX":80,"legendY":-36,"direction":"horizontal","columns":4,"title":"UTC, hh:mm","titleOrient":"right","titleAnchor":"end","titleBaseline":"bottom","titlePadding":11,"titleFontSize":18,"titleFontWeight":"bold","titleColor":"#000000","labelFontSize":18,"labelColor":"#000000","labelOffset":5,"columnPadding":20,"symbolType":"stroke","symbolSize":841,"symbolStrokeWidth":1.6,"labelExpr":"['12:16-12:34','13:48-14:02','15:55-16:11','17:30-17:45'][datum.value-1]"}},
"order":{"value":null}}},
{"data":{"values":[{}]},"mark":{"type":"text","align":"left","baseline":"middle","fontSize":16,"fontWeight":"bold"},"encoding":{"x":{"datum":8.2},"y":{"datum":1887},"text":{"value":"14/07/2016"}}},
{"data":{"values":[{}]},"mark":{"type":"text","align":"center","baseline":"middle","fontSize":28,"fontWeight":"bold"},"encoding":{"x":{"datum":9.8},"y":{"datum":1294},"text":{"value":"D"}}}
]},
{"width":190,"height":305,"resolve":{"axis":{"x":"independent"}},"layer":[
{"data":{"name":"r4"},"transform":[{"filter":"datum.v==='n'"}],"mark":{"type":"line","strokeWidth":1.6},
"encoding":{
"x":{"field":"val","type":"quantitative","scale":{"type":"log","domain":[1000,100000],"nice":false},"axis":{"orient":"bottom","values":[1000,2000,3000,4000,5000,6000,7000,8000,9000,10000,20000,30000,40000,50000,60000,70000,80000,90000,100000],"ticks":true,"tickSize":-4,"tickColor":"#555555","labelExpr":"datum.value===1000?'10³':datum.value===10000?'10⁴':datum.value===100000?'10⁵':''","labelPadding":12,"labelOffset":4,"title":"PN₃₋₃₀₀ (#/cm³)","titleX":97,"titleY":40,"titleBaseline":"middle","titleAlign":"center","gridOpacity":{"condition":{"test":"datum.value===10000","value":1},"value":0}}},
"y":{"field":"alt","type":"quantitative","scale":{"domain":[600,2000],"nice":false,"zero":false},"axis":{"values":[600,800,1000,1200,1400,1600,1800,2000],"labels":false,"title":null,"gridOpacity":{"condition":{"test":"datum.value===600||datum.value===2000","value":0},"value":1}}},
"color":{"field":"p","type":"nominal","scale":{"domain":[1,2,3,4],"range":["#FF0000","#FFC000","#556B2F","#574B30"]},"legend":null},
"order":{"value":null}}},
{"data":{"values":[]},"mark":{"type":"point"},"encoding":{"x":{"field":"val","type":"quantitative","axis":{"orient":"top","values":[1000,2000,3000,4000,5000,6000,7000,8000,9000,10000,20000,30000,40000,50000,60000,70000,80000,90000,100000],"ticks":true,"tickSize":-4,"tickColor":"#555555","labels":false,"grid":false,"title":null}}}}
]},
{"width":173,"height":305,"data":{"name":"r4"},"transform":[{"filter":"datum.v==='h'"}],"mark":{"type":"line","strokeWidth":1.6},
"encoding":{
"x":{"field":"val","type":"quantitative","scale":{"domain":[10,50],"nice":false,"zero":false},"axis":{"orient":"top","values":[10,20,30,40,50],"labels":false,"title":null,"gridOpacity":{"condition":{"test":"datum.value===10||datum.value===50","value":0},"value":1}}},
"y":{"field":"alt","type":"quantitative","scale":{"domain":[600,2000],"nice":false,"zero":false},"axis":{"values":[600,800,1000,1200,1400,1600,1800,2000],"labels":false,"title":null,"gridOpacity":{"condition":{"test":"datum.value===600||datum.value===2000","value":0},"value":1}}},
"color":{"field":"p","type":"nominal","scale":{"domain":[1,2,3,4],"range":["#FF0000","#FFC000","#556B2F","#574B30"]},"legend":null},
"order":{"value":null}}},
{"width":263,"height":305,"data":{"name":"r4"},"transform":[{"filter":"datum.v==='t'"}],"mark":{"type":"line","strokeWidth":1.6},
"encoding":{
"x":{"field":"val","type":"quantitative","scale":{"domain":[10,35],"nice":false,"zero":false},"axis":{"orient":"bottom","values":[10,15,20,25,30,35],"labelPadding":8,"title":"T (ᵒC)","titleX":139,"titleY":40,"titleBaseline":"middle","titleAlign":"center","gridOpacity":{"condition":{"test":"datum.value===10||datum.value===35","value":0},"value":1}}},
"y":{"field":"alt","type":"quantitative","scale":{"domain":[600,2000],"nice":false,"zero":false},"axis":{"values":[600,800,1000,1200,1400,1600,1800,2000],"labels":false,"title":null,"gridOpacity":{"condition":{"test":"datum.value===600||datum.value===2000","value":0},"value":1}}},
"color":{"field":"p","type":"nominal","scale":{"domain":[1,2,3,4],"range":["#FF0000","#FFC000","#556B2F","#574B30"]},"legend":null},
"order":{"value":null}}}
]
}
